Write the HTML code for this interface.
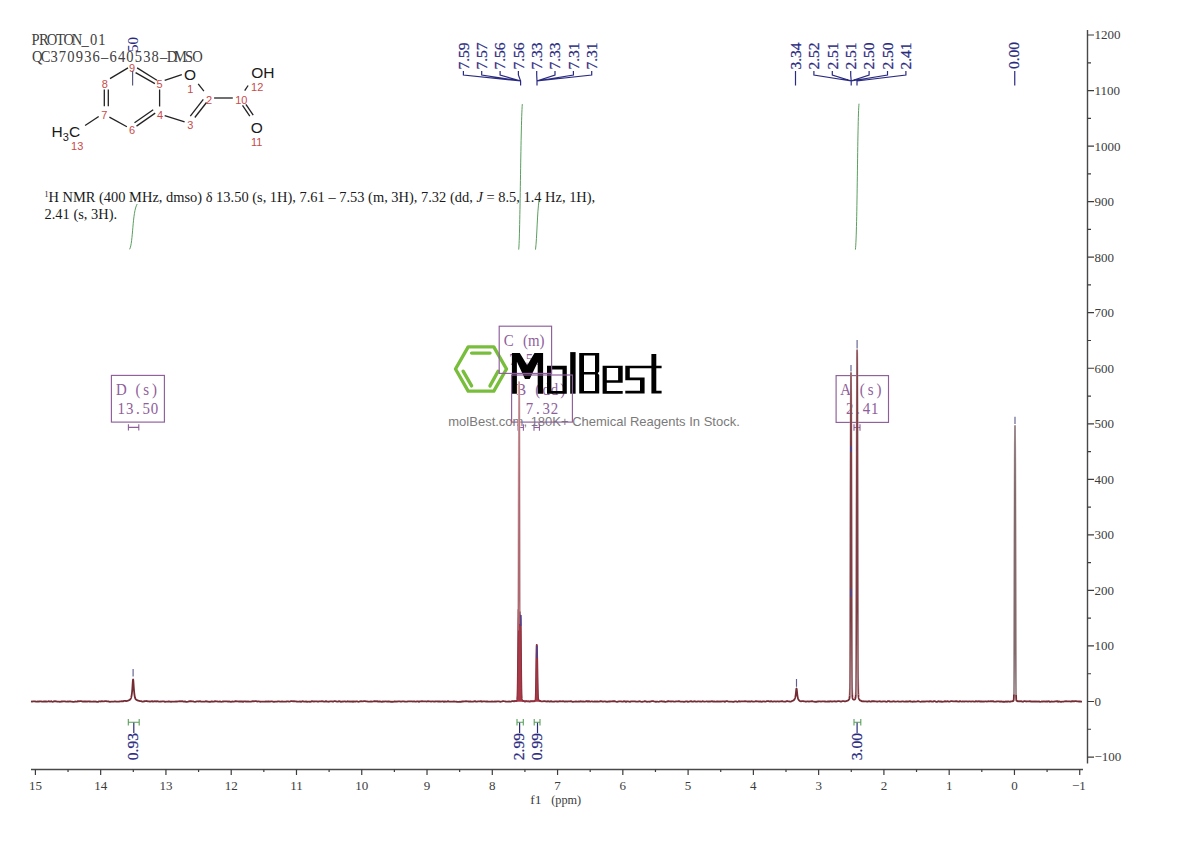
<!DOCTYPE html><html><head><meta charset="utf-8"><style>html,body{margin:0;padding:0;background:#fff;width:1190px;height:841px;overflow:hidden}svg{display:block}text{font-family:"Liberation Serif",serif}</style></head><body>
<svg width="1190" height="841" viewBox="0 0 1190 841">
<rect width="1190" height="841" fill="#fff"/>
<g transform="translate(31.30,44.50) scale(0.880,1)"><text xml:space="preserve" x="4.72 14.15 23.58 33.01 42.44 51.88 61.31 70.74 80.17" y="0" font-size="16.5" fill="#404040" text-anchor="middle" >PROTON_01</text></g>
<g transform="translate(33.00,61.90) scale(0.880,1)"><text xml:space="preserve" x="4.79 14.37 23.95 33.53 43.11 52.69 62.27 71.85 81.43 91.01 100.59 110.16 119.74 129.32 138.90 148.48 158.06 167.64 177.22 186.80" y="0" font-size="16.5" fill="#404040" text-anchor="middle" >QC370936–640538–DMSO</text></g>
<line x1="110.0" y1="78.6" x2="128.0" y2="67.9" stroke="#222" stroke-width="1.3"/>
<line x1="137.1" y1="67.9" x2="156.9" y2="80.3" stroke="#222" stroke-width="1.3"/>
<line x1="135.6" y1="72.6" x2="154.9" y2="83.6" stroke="#222" stroke-width="1.3"/>
<line x1="164.7" y1="80.4" x2="181.8" y2="74.7" stroke="#222" stroke-width="1.3"/>
<line x1="159.6" y1="89.5" x2="159.6" y2="106.5" stroke="#222" stroke-width="1.3"/>
<line x1="198.2" y1="83.8" x2="203.9" y2="91.2" stroke="#222" stroke-width="1.3"/>
<line x1="214.1" y1="98.0" x2="232.8" y2="98.0" stroke="#222" stroke-width="1.3"/>
<line x1="203.3" y1="99.3" x2="190.3" y2="116.2" stroke="#222" stroke-width="1.3"/>
<line x1="206.5" y1="102.5" x2="194.8" y2="117.5" stroke="#222" stroke-width="1.3"/>
<line x1="184.6" y1="121.8" x2="164.7" y2="115.6" stroke="#222" stroke-width="1.3"/>
<line x1="155.2" y1="113.1" x2="136.5" y2="126.1" stroke="#222" stroke-width="1.3"/>
<line x1="153.2" y1="109.8" x2="134.5" y2="122.8" stroke="#222" stroke-width="1.3"/>
<line x1="126.9" y1="126.7" x2="109.4" y2="117.1" stroke="#222" stroke-width="1.3"/>
<line x1="104.3" y1="89.4" x2="104.3" y2="106.3" stroke="#222" stroke-width="1.3"/>
<line x1="108.3" y1="89.4" x2="108.3" y2="106.3" stroke="#222" stroke-width="1.3"/>
<line x1="98.7" y1="116.5" x2="85.1" y2="125.5" stroke="#222" stroke-width="1.3"/>
<line x1="244.7" y1="90.6" x2="248.1" y2="85.5" stroke="#222" stroke-width="1.3"/>
<line x1="242.5" y1="105.4" x2="249.8" y2="116.2" stroke="#222" stroke-width="1.3"/>
<line x1="245.9" y1="104.4" x2="253.2" y2="115.2" stroke="#222" stroke-width="1.3"/>
<text x="104.9" y="88.1" font-size="11" fill="#c84a4a" text-anchor="middle" style="font-family:'Liberation Sans', sans-serif">8</text>
<text x="132.0" y="72.3" font-size="11" fill="#c84a4a" text-anchor="middle" style="font-family:'Liberation Sans', sans-serif">9</text>
<text x="159.6" y="87.8" font-size="11" fill="#c84a4a" text-anchor="middle" style="font-family:'Liberation Sans', sans-serif">5</text>
<text x="104.3" y="119.2" font-size="11" fill="#c84a4a" text-anchor="middle" style="font-family:'Liberation Sans', sans-serif">7</text>
<text x="160.0" y="119.3" font-size="11" fill="#c84a4a" text-anchor="middle" style="font-family:'Liberation Sans', sans-serif">4</text>
<text x="132.0" y="134.4" font-size="11" fill="#c84a4a" text-anchor="middle" style="font-family:'Liberation Sans', sans-serif">6</text>
<text x="77.2" y="150.2" font-size="11" fill="#c84a4a" text-anchor="middle" style="font-family:'Liberation Sans', sans-serif">13</text>
<text x="190.3" y="92.7" font-size="11" fill="#c84a4a" text-anchor="middle" style="font-family:'Liberation Sans', sans-serif">1</text>
<text x="209.0" y="103.5" font-size="11" fill="#c84a4a" text-anchor="middle" style="font-family:'Liberation Sans', sans-serif">2</text>
<text x="241.3" y="103.5" font-size="11" fill="#c84a4a" text-anchor="middle" style="font-family:'Liberation Sans', sans-serif">10</text>
<text x="257.2" y="91.0" font-size="11" fill="#c84a4a" text-anchor="middle" style="font-family:'Liberation Sans', sans-serif">12</text>
<text x="256.6" y="146.0" font-size="11" fill="#c84a4a" text-anchor="middle" style="font-family:'Liberation Sans', sans-serif">11</text>
<text x="190.3" y="128.5" font-size="11" fill="#c84a4a" text-anchor="middle" style="font-family:'Liberation Sans', sans-serif">3</text>
<text x="190.0" y="79.9" font-size="15.5" fill="#1a1a1a" text-anchor="middle" style="font-family:'Liberation Sans', sans-serif">O</text>
<text x="262.9" y="78.2" font-size="15.5" fill="#1a1a1a" text-anchor="middle" style="font-family:'Liberation Sans', sans-serif">OH</text>
<text x="256.9" y="132.6" font-size="15.5" fill="#1a1a1a" text-anchor="middle" style="font-family:'Liberation Sans', sans-serif">O</text>
<text x="51.6" y="137.4" font-size="15.5" fill="#1a1a1a" style="font-family:'Liberation Sans', sans-serif">H<tspan font-size="11" dy="3.5">3</tspan><tspan dy="-3.5">C</tspan></text>
<line x1="132.6" y1="70.7" x2="132.6" y2="85.4" stroke="#5a5a80" stroke-width="1.2"/>
<text x="44.5" y="202.2" font-size="14.45" fill="#1a1a1a"><tspan font-size="8" dy="-5">1</tspan><tspan dy="5">H NMR (400 MHz, dmso) δ 13.50 (s, 1H), 7.61 – 7.53 (m, 3H), 7.32 (dd, </tspan><tspan font-style="italic">J</tspan> = 8.5, 1.4 Hz, 1H),</text>
<text x="44.5" y="219.0" font-size="14.45" fill="#1a1a1a">2.41 (s, 3H).</text>
<path d="M129.6,249.3 C133.2,243 132.2,212 137.2,204" fill="none" stroke="#5a9e5e" stroke-width="1.0"/>
<path d="M518.7,249.6 C520.2,236 520.6,128 522.3,104.1" fill="none" stroke="#5a9e5e" stroke-width="1.0"/>
<path d="M535.5,249.6 C537,238 537.2,212 539.1,200.1" fill="none" stroke="#5a9e5e" stroke-width="1.0"/>
<path d="M855.4,249.6 C857.4,232 857.4,120 859,103.7" fill="none" stroke="#5a9e5e" stroke-width="1.0"/>
<text transform="translate(468.65,69.50) rotate(-90)" font-size="15.5" fill="#2a2a80" stroke="#2a2a80" stroke-width="0.25">7.59</text>
<text transform="translate(486.98,69.50) rotate(-90)" font-size="15.5" fill="#2a2a80" stroke="#2a2a80" stroke-width="0.25">7.57</text>
<text transform="translate(505.31,69.50) rotate(-90)" font-size="15.5" fill="#2a2a80" stroke="#2a2a80" stroke-width="0.25">7.56</text>
<text transform="translate(523.64,69.50) rotate(-90)" font-size="15.5" fill="#2a2a80" stroke="#2a2a80" stroke-width="0.25">7.56</text>
<text transform="translate(541.97,69.50) rotate(-90)" font-size="15.5" fill="#2a2a80" stroke="#2a2a80" stroke-width="0.25">7.33</text>
<text transform="translate(560.30,69.50) rotate(-90)" font-size="15.5" fill="#2a2a80" stroke="#2a2a80" stroke-width="0.25">7.33</text>
<text transform="translate(578.63,69.50) rotate(-90)" font-size="15.5" fill="#2a2a80" stroke="#2a2a80" stroke-width="0.25">7.31</text>
<text transform="translate(596.96,69.50) rotate(-90)" font-size="15.5" fill="#2a2a80" stroke="#2a2a80" stroke-width="0.25">7.31</text>
<text transform="translate(800.75,69.50) rotate(-90)" font-size="15.5" fill="#2a2a80" stroke="#2a2a80" stroke-width="0.25">3.34</text>
<text transform="translate(819.15,69.50) rotate(-90)" font-size="15.5" fill="#2a2a80" stroke="#2a2a80" stroke-width="0.25">2.52</text>
<text transform="translate(837.55,69.50) rotate(-90)" font-size="15.5" fill="#2a2a80" stroke="#2a2a80" stroke-width="0.25">2.51</text>
<text transform="translate(855.95,69.50) rotate(-90)" font-size="15.5" fill="#2a2a80" stroke="#2a2a80" stroke-width="0.25">2.51</text>
<text transform="translate(874.35,69.50) rotate(-90)" font-size="15.5" fill="#2a2a80" stroke="#2a2a80" stroke-width="0.25">2.50</text>
<text transform="translate(892.75,69.50) rotate(-90)" font-size="15.5" fill="#2a2a80" stroke="#2a2a80" stroke-width="0.25">2.50</text>
<text transform="translate(911.15,69.50) rotate(-90)" font-size="15.5" fill="#2a2a80" stroke="#2a2a80" stroke-width="0.25">2.41</text>
<text transform="translate(1019.25,69.00) rotate(-90)" font-size="15.5" fill="#2a2a80" stroke="#2a2a80" stroke-width="0.25">0.00</text>
<path d="M463.4,71 L463.4,75 L520.6,81 L520.6,85.5 M481.7,71 L481.7,75 L520.6,81 L520.6,85.5 M500.1,71 L500.1,75 L520.6,81 L520.6,85.5 M518.4,71 L518.4,75 L520.6,81 L520.6,85.5 M536.7,71 L536.7,75 L537.0,81 L537.0,85.5 M555.0,71 L555.0,75 L537.0,81 L537.0,85.5 M573.4,71 L573.4,75 L537.0,81 L537.0,85.5 M591.7,71 L591.7,75 L537.0,81 L537.0,85.5 M795.5,71 L795.5,85.5 M813.9,71 L813.9,75 L851.2,81 L851.2,85.5 M832.3,71 L832.3,75 L851.2,81 L851.2,85.5 M850.7,71 L850.7,75 L851.2,81 L851.2,85.5 M869.1,71 L869.1,75 L851.2,81 L851.2,85.5 M887.5,71 L887.5,75 L851.2,81 L851.2,85.5 M905.9,71 L905.9,75 L857.0,81 L857.0,85.5 M1014.75,71 L1014.75,85.5" fill="none" stroke="#2a2a80" stroke-width="1.2"/>
<text transform="translate(137.8,52) rotate(-90)" font-size="15" fill="#2a2a80">50</text>
<g transform="translate(117.15,395.00) scale(0.930,1)"><text xml:space="preserve" x="4.46 13.39 22.31 31.24 40.16" y="0" font-size="16" fill="#8e5e9a" text-anchor="middle" >D (s)</text></g><g transform="translate(117.15,414.20) scale(0.930,1)"><text xml:space="preserve" x="4.46 13.39 22.31 31.24 40.16" y="0" font-size="16" fill="#8e5e9a" text-anchor="middle" >13.50</text></g>
<g transform="translate(504.65,345.80) scale(0.930,1)"><text xml:space="preserve" x="4.46 13.39 22.31 31.24 40.16" y="0" font-size="16" fill="#8e5e9a" text-anchor="middle" >C (m)</text></g><g transform="translate(508.80,365.00) scale(0.930,1)"><text xml:space="preserve" x="4.46 13.39 22.31 31.24" y="0" font-size="16" fill="#8e5e9a" text-anchor="middle" >7.56</text></g>
<g transform="translate(517.10,394.60) scale(0.930,1)"><text xml:space="preserve" x="4.46 13.39 22.31 31.24 40.16 49.09" y="0" font-size="16" fill="#8e5e9a" text-anchor="middle" >B (dd)</text></g><g transform="translate(525.40,413.80) scale(0.930,1)"><text xml:space="preserve" x="4.46 13.39 22.31 31.24" y="0" font-size="16" fill="#8e5e9a" text-anchor="middle" >7.32</text></g>
<g transform="translate(841.55,395.20) scale(0.930,1)"><text xml:space="preserve" x="4.46 13.39 22.31 31.24 40.16" y="0" font-size="16" fill="#8e5e9a" text-anchor="middle" >A (s)</text></g><g transform="translate(845.70,414.40) scale(0.930,1)"><text xml:space="preserve" x="4.46 13.39 22.31 31.24" y="0" font-size="16" fill="#8e5e9a" text-anchor="middle" >2.41</text></g>
<g>
<polygon points="506.5,369.0 493.8,391.1 468.2,391.1 455.5,369.0 468.2,346.9 493.8,346.9" fill="none" stroke="#78be3c" stroke-width="3.4" stroke-linejoin="round"/>
<path d="M471.6,353.1 H490 M463.1,371.2 L471.6,385.9 M498.1,371.2 L490,385.9" stroke="#78be3c" stroke-width="3.4" stroke-linecap="round" fill="none"/>
<path d="M511.9,353 H519.8 L527.2,365.2 L534.5,353 H543.1 V393.8 H537.7 V362.3 L529.7,378.9 H525 L516.9,361.7 V393.8 H511.9 Z" fill="#000" fill-rule="evenodd"/>
<path d="M547,365.8 H566.8 V393.7 H547 Z M551.4,369.5 V391 H562.5 V369.5 Z" fill="#000" fill-rule="evenodd"/>
<path d="M570.2,352.1 H575.6 V393.7 H570.2 Z" fill="#000" fill-rule="evenodd"/>
<path d="M579.2,352.9 H599.2 V371.5 L597.8,373.2 L599.2,374.9 V393.4 H579.2 Z M584,355.6 V371.9 H595 V355.6 Z M584,374.5 V391.1 H595 V374.5 Z" fill="#000" fill-rule="evenodd"/>
<path d="M602.6,365.8 H622.7 V382.8 H606.8 V391.1 H622.7 V393.8 H602.6 Z M606.8,368.1 V380.2 H618.1 V368.1 Z" fill="#000" fill-rule="evenodd"/>
<path d="M625.3,365.8 H661.6 V368.3 H629.8 V377.5 H644.6 V393.4 H625.3 V390.8 H640 V380.2 H625.3 Z" fill="#000" fill-rule="evenodd"/>
<path d="M651.4,354.1 H656.3 V390.8 H661.6 V393.4 H651.4 Z" fill="#000" fill-rule="evenodd"/>
<text x="448.3" y="425.6" font-size="13.4" fill="#7a7a7a" textLength="291.5" lengthAdjust="spacingAndGlyphs" style="font-family:'Liberation Sans', sans-serif">molBest.com, 180K+ Chemical Reagents In Stock.</text>
</g>
<rect x="111.4" y="375.4" width="53.0" height="46.7" fill="none" stroke="#8e5e9a" stroke-width="1.15"/><rect x="499.2" y="326.2" width="52.4" height="47.2" fill="none" stroke="#8e5e9a" stroke-width="1.15"/><rect x="511.6" y="375.0" width="60.8" height="47.1" fill="none" stroke="#8e5e9a" stroke-width="1.15"/><rect x="836.1" y="375.6" width="52.4" height="46.8" fill="none" stroke="#8e5e9a" stroke-width="1.15"/>
<path d="M128.4,424.2 V430.6 M138.8,424.2 V430.6 M128.4,427.4 H138.8" fill="none" stroke="#8e5e9a" stroke-width="1.1"/>
<path d="M518.0,424.3 V430.7 M523.4,424.3 V430.7 M518.0,427.5 H523.4" fill="none" stroke="#8e5e9a" stroke-width="1.1"/>
<path d="M534.0,424.3 V430.7 M539.4,424.3 V430.7 M534.0,427.5 H539.4" fill="none" stroke="#8e5e9a" stroke-width="1.1"/>
<path d="M854.0,424.3 V430.7 M860.0,424.3 V430.7 M854.0,427.5 H860.0" fill="none" stroke="#8e5e9a" stroke-width="1.1"/>
<polyline points="31.00,701.35 32.00,701.55 33.00,701.28 34.00,701.38 35.00,701.46 36.00,701.68 37.00,701.54 38.00,701.37 39.00,701.52 40.00,701.44 41.00,701.36 42.00,701.67 43.00,701.62 44.00,701.32 45.00,701.50 46.00,701.46 47.00,701.65 48.00,701.48 49.00,701.24 50.00,701.69 51.00,701.21 52.00,701.61 53.00,701.79 54.00,701.18 55.00,701.37 56.00,701.24 57.00,701.59 58.00,701.69 59.00,701.58 60.00,701.82 61.00,701.51 62.00,701.51 63.00,701.45 64.00,701.46 65.00,701.40 66.00,701.60 67.00,701.66 68.00,701.45 69.00,701.55 70.00,701.24 71.00,701.59 72.00,701.73 73.00,701.92 74.00,701.79 75.00,701.49 76.00,701.55 77.00,701.71 78.00,701.07 79.00,701.31 80.00,701.16 81.00,701.13 82.00,701.32 83.00,701.71 84.00,701.42 85.00,701.48 86.00,701.42 87.00,701.69 88.00,701.29 89.00,701.49 90.00,701.35 91.00,701.54 92.00,701.63 93.00,701.65 94.00,701.51 95.00,701.58 96.00,701.52 97.00,701.80 98.00,701.85 99.00,701.41 100.00,701.46 101.00,701.49 102.00,701.25 103.00,701.39 104.00,701.40 105.00,701.22 106.00,701.09 107.00,701.32 108.00,701.41 109.00,701.51 110.00,701.78 111.00,701.63 112.00,701.61 113.00,701.67 114.00,701.62 115.00,701.27 116.00,701.71 117.00,701.63 118.00,701.72 119.00,701.66 120.00,701.32 121.00,701.31 122.00,701.16 123.00,701.42 123.10,701.37 123.15,701.34 123.20,701.31 123.25,701.29 123.30,701.26 123.35,701.24 123.40,701.21 123.45,701.18 123.50,701.16 123.55,701.13 123.60,701.10 123.65,701.08 123.70,701.05 123.75,701.03 123.80,701.00 123.85,700.97 123.90,700.95 123.95,700.92 124.00,700.89 124.05,700.89 124.10,700.89 124.15,700.89 124.20,700.89 124.25,700.88 124.30,700.88 124.35,700.88 124.40,700.88 124.45,700.87 124.50,700.87 124.55,700.87 124.60,700.86 124.65,700.86 124.70,700.86 124.75,700.86 124.80,700.85 124.85,700.85 124.90,700.85 124.95,700.84 125.00,700.84 125.05,700.85 125.10,700.87 125.15,700.88 125.20,700.89 125.25,700.91 125.30,700.92 125.35,700.93 125.40,700.94 125.45,700.95 125.50,700.97 125.55,700.98 125.60,700.99 125.65,701.00 125.70,701.02 125.75,701.03 125.80,701.04 125.85,701.05 125.90,701.06 125.95,701.07 126.00,701.08 126.05,701.08 126.10,701.07 126.15,701.07 126.20,701.06 126.25,701.05 126.30,701.05 126.35,701.04 126.40,701.03 126.45,701.03 126.50,701.02 126.55,701.01 126.60,701.00 126.65,701.00 126.70,700.99 126.75,700.98 126.80,700.97 126.85,700.96 126.90,700.96 126.95,700.95 127.00,700.94 127.05,700.93 127.10,700.91 127.15,700.90 127.20,700.89 127.25,700.88 127.30,700.86 127.35,700.85 127.40,700.84 127.45,700.83 127.50,700.81 127.55,700.80 127.60,700.78 127.65,700.77 127.70,700.75 127.75,700.74 127.80,700.72 127.85,700.71 127.90,700.69 127.95,700.68 128.00,700.66 128.05,700.64 128.10,700.62 128.15,700.60 128.20,700.57 128.25,700.55 128.30,700.53 128.35,700.51 128.40,700.48 128.45,700.46 128.50,700.43 128.55,700.41 128.60,700.38 128.65,700.36 128.70,700.33 128.75,700.30 128.80,700.27 128.85,700.25 128.90,700.22 128.95,700.19 129.00,700.15 129.05,700.14 129.10,700.13 129.15,700.11 129.20,700.09 129.25,700.08 129.30,700.06 129.35,700.04 129.40,700.02 129.45,699.99 129.50,699.97 129.55,699.95 129.60,699.92 129.65,699.89 129.70,699.86 129.75,699.83 129.80,699.80 129.85,699.77 129.90,699.73 129.95,699.69 130.00,699.65 130.05,699.61 130.10,699.56 130.15,699.50 130.20,699.45 130.25,699.39 130.30,699.33 130.35,699.26 130.40,699.20 130.45,699.13 130.50,699.05 130.55,698.97 130.60,698.89 130.65,698.80 130.70,698.71 130.75,698.61 130.80,698.51 130.85,698.40 130.90,698.28 130.95,698.16 131.00,698.03 131.05,697.89 131.10,697.73 131.15,697.57 131.20,697.39 131.25,697.21 131.30,697.01 131.35,696.80 131.40,696.58 131.45,696.35 131.50,696.10 131.55,695.83 131.60,695.55 131.65,695.25 131.70,694.93 131.75,694.59 131.80,694.22 131.85,693.84 131.90,693.42 131.95,692.98 132.00,692.51 132.05,692.02 132.10,691.50 132.15,690.94 132.20,690.36 132.25,689.74 132.30,689.08 132.35,688.40 132.40,687.68 132.45,686.94 132.50,686.17 132.55,685.39 132.60,684.60 132.65,683.82 132.70,683.06 132.75,682.33 132.80,681.64 132.85,681.03 132.90,680.49 132.95,680.06 133.00,679.74 133.05,679.53 133.10,679.44 133.15,679.50 133.20,679.68 133.25,679.99 133.30,680.42 133.35,680.94 133.40,681.55 133.45,682.23 133.50,682.95 133.55,683.71 133.60,684.48 133.65,685.26 133.70,686.03 133.75,686.79 133.80,687.53 133.85,688.24 133.90,688.91 133.95,689.56 134.00,690.17 134.05,690.79 134.10,691.38 134.15,691.93 134.20,692.45 134.25,692.93 134.30,693.39 134.35,693.83 134.40,694.23 134.45,694.62 134.50,694.97 134.55,695.31 134.60,695.63 134.65,695.93 134.70,696.21 134.75,696.48 134.80,696.73 134.85,696.97 134.90,697.19 134.95,697.41 135.00,697.61 135.05,697.77 135.10,697.92 135.15,698.06 135.20,698.19 135.25,698.31 135.30,698.43 135.35,698.54 135.40,698.64 135.45,698.74 135.50,698.83 135.55,698.91 135.60,699.00 135.65,699.07 135.70,699.15 135.75,699.22 135.80,699.28 135.85,699.34 135.90,699.40 135.95,699.45 136.00,699.51 136.05,699.55 136.10,699.60 136.15,699.64 136.20,699.68 136.25,699.72 136.30,699.75 136.35,699.78 136.40,699.81 136.45,699.84 136.50,699.87 136.55,699.90 136.60,699.92 136.65,699.94 136.70,699.97 136.75,699.99 136.80,700.01 136.85,700.02 136.90,700.04 136.95,700.06 137.00,700.07 137.05,700.10 137.10,700.13 137.15,700.16 137.20,700.19 137.25,700.22 137.30,700.25 137.35,700.27 137.40,700.30 137.45,700.32 137.50,700.35 137.55,700.37 137.60,700.40 137.65,700.42 137.70,700.44 137.75,700.46 137.80,700.48 137.85,700.50 137.90,700.52 137.95,700.54 138.00,700.56 138.05,700.58 138.10,700.60 138.15,700.61 138.20,700.63 138.25,700.64 138.30,700.66 138.35,700.67 138.40,700.69 138.45,700.70 138.50,700.71 138.55,700.73 138.60,700.74 138.65,700.75 138.70,700.76 138.75,700.78 138.80,700.79 138.85,700.80 138.90,700.81 138.95,700.82 139.00,700.83 139.05,700.85 139.10,700.86 139.15,700.88 139.20,700.89 139.25,700.91 139.30,700.92 139.35,700.93 139.40,700.95 139.45,700.96 139.50,700.98 139.55,700.99 139.60,701.00 139.65,701.01 139.70,701.03 139.75,701.04 139.80,701.05 139.85,701.07 139.90,701.08 139.95,701.09 140.00,701.10 140.05,701.10 140.10,701.10 140.15,701.10 140.20,701.10 140.25,701.09 140.30,701.09 140.35,701.09 140.40,701.09 140.45,701.09 140.50,701.08 140.55,701.08 140.60,701.08 140.65,701.08 140.70,701.07 140.75,701.07 140.80,701.07 140.85,701.06 140.90,701.06 140.95,701.06 141.00,701.06 141.05,701.08 141.10,701.10 141.15,701.13 141.20,701.15 141.25,701.18 141.30,701.20 141.35,701.23 141.40,701.25 141.45,701.27 141.50,701.30 141.55,701.32 141.60,701.35 141.65,701.37 141.70,701.39 141.75,701.42 141.80,701.44 141.85,701.46 141.90,701.49 141.95,701.51 142.00,701.53 142.05,701.54 142.10,701.55 142.15,701.55 142.20,701.56 142.25,701.57 142.30,701.57 142.35,701.58 142.40,701.58 142.45,701.59 142.50,701.60 142.55,701.60 142.60,701.61 142.65,701.62 142.70,701.62 142.75,701.63 142.80,701.63 142.85,701.64 142.90,701.64 142.95,701.65 143.00,701.66 143.05,701.63 143.10,701.61 144.00,701.20 145.00,701.24 146.00,701.02 147.00,701.05 148.00,701.34 149.00,701.31 150.00,701.65 151.00,701.29 152.00,701.15 153.00,701.67 154.00,701.38 155.00,701.18 156.00,701.52 157.00,701.24 158.00,701.33 159.00,701.57 160.00,701.61 161.00,701.52 162.00,701.33 163.00,701.39 164.00,701.45 165.00,701.78 166.00,701.55 167.00,701.69 168.00,701.52 169.00,701.46 170.00,701.65 171.00,701.75 172.00,701.59 173.00,701.57 174.00,701.58 175.00,701.54 176.00,701.49 177.00,701.65 178.00,701.48 179.00,701.30 180.00,701.17 181.00,701.31 182.00,701.20 183.00,701.44 184.00,701.74 185.00,701.46 186.00,701.79 187.00,701.82 188.00,701.72 189.00,701.39 190.00,701.26 191.00,701.26 192.00,701.38 193.00,701.39 194.00,701.70 195.00,701.86 196.00,701.59 197.00,701.39 198.00,701.43 199.00,701.51 200.00,701.21 201.00,701.53 202.00,701.70 203.00,701.63 204.00,701.69 205.00,701.54 206.00,701.22 207.00,701.56 208.00,701.50 209.00,701.76 210.00,701.84 211.00,701.52 212.00,701.44 213.00,701.74 214.00,701.52 215.00,701.22 216.00,701.45 217.00,701.46 218.00,701.66 219.00,701.60 220.00,701.41 221.00,701.78 222.00,701.67 223.00,701.50 224.00,701.32 225.00,701.43 226.00,701.38 227.00,701.32 228.00,701.69 229.00,701.51 230.00,701.66 231.00,701.89 232.00,701.46 233.00,701.70 234.00,701.57 235.00,701.24 236.00,701.27 237.00,701.29 238.00,701.33 239.00,701.52 240.00,701.42 241.00,701.51 242.00,701.44 243.00,701.87 244.00,701.30 245.00,701.36 246.00,701.51 247.00,701.69 248.00,701.36 249.00,701.63 250.00,701.66 251.00,701.67 252.00,701.39 253.00,701.12 254.00,701.32 255.00,701.18 256.00,701.08 257.00,701.52 258.00,701.28 259.00,701.45 260.00,701.75 261.00,701.66 262.00,701.53 263.00,701.64 264.00,701.61 265.00,701.73 266.00,701.45 267.00,701.70 268.00,701.50 269.00,701.52 270.00,701.59 271.00,701.45 272.00,701.43 273.00,701.54 274.00,701.87 275.00,701.61 276.00,701.64 277.00,701.58 278.00,701.35 279.00,701.45 280.00,701.53 281.00,701.57 282.00,701.45 283.00,701.70 284.00,701.57 285.00,701.66 286.00,701.69 287.00,701.31 288.00,701.42 289.00,701.63 290.00,701.52 291.00,701.14 292.00,701.22 293.00,701.39 294.00,701.21 295.00,701.31 296.00,701.41 297.00,701.74 298.00,701.53 299.00,701.59 300.00,701.46 301.00,701.77 302.00,701.49 303.00,701.21 304.00,701.66 305.00,701.71 306.00,701.45 307.00,701.85 308.00,701.55 309.00,701.60 310.00,701.75 311.00,701.66 312.00,701.16 313.00,701.31 314.00,701.50 315.00,701.40 316.00,701.29 317.00,701.36 318.00,701.76 319.00,701.37 320.00,701.43 321.00,701.37 322.00,701.19 323.00,701.36 324.00,701.70 325.00,701.64 326.00,701.10 327.00,701.61 328.00,701.63 329.00,701.73 330.00,701.38 331.00,701.47 332.00,701.33 333.00,701.74 334.00,701.22 335.00,701.14 336.00,701.30 337.00,701.57 338.00,701.53 339.00,701.22 340.00,701.44 341.00,701.87 342.00,701.46 343.00,701.53 344.00,701.35 345.00,701.34 346.00,701.73 347.00,701.59 348.00,701.21 349.00,701.69 350.00,701.50 351.00,701.59 352.00,701.42 353.00,701.85 354.00,701.30 355.00,701.74 356.00,701.40 357.00,701.33 358.00,701.60 359.00,701.81 360.00,701.31 361.00,701.23 362.00,701.44 363.00,701.28 364.00,701.12 365.00,701.15 366.00,701.34 367.00,701.42 368.00,701.53 369.00,701.53 370.00,701.69 371.00,701.43 372.00,701.65 373.00,701.47 374.00,701.26 375.00,701.08 376.00,701.27 377.00,701.14 378.00,701.62 379.00,701.52 380.00,701.48 381.00,701.64 382.00,701.89 383.00,701.43 384.00,701.64 385.00,701.42 386.00,701.41 387.00,701.60 388.00,701.42 389.00,701.48 390.00,701.60 391.00,701.76 392.00,701.55 393.00,701.82 394.00,701.51 395.00,701.47 396.00,701.55 397.00,701.52 398.00,701.33 399.00,701.37 400.00,701.37 401.00,701.74 402.00,701.45 403.00,701.40 404.00,701.31 405.00,701.72 406.00,701.65 407.00,701.54 408.00,701.32 409.00,701.30 410.00,701.34 411.00,701.43 412.00,701.40 413.00,701.56 414.00,701.23 415.00,701.61 416.00,701.66 417.00,701.42 418.00,701.44 419.00,701.84 420.00,701.31 421.00,701.34 422.00,701.08 423.00,701.29 424.00,701.33 425.00,701.35 426.00,701.35 427.00,701.52 428.00,701.17 429.00,701.31 430.00,701.43 431.00,701.60 432.00,701.37 433.00,701.36 434.00,701.55 435.00,701.51 436.00,701.47 437.00,701.44 438.00,701.50 439.00,701.45 440.00,701.48 441.00,701.57 442.00,701.44 443.00,701.40 444.00,701.83 445.00,701.37 446.00,701.60 447.00,701.56 448.00,701.16 449.00,701.59 450.00,701.69 451.00,701.54 452.00,701.67 453.00,701.71 454.00,701.36 455.00,701.57 456.00,701.58 457.00,701.76 458.00,701.78 459.00,701.79 460.00,701.60 461.00,701.77 462.00,701.47 463.00,701.48 464.00,701.46 465.00,701.35 466.00,701.23 467.00,701.35 468.00,701.30 469.00,701.70 470.00,701.49 471.00,701.52 472.00,701.64 473.00,701.67 474.00,701.39 475.00,701.12 476.00,701.58 477.00,701.55 478.00,701.41 479.00,701.43 480.00,701.47 481.00,701.14 482.00,701.75 483.00,701.48 484.00,701.29 485.00,701.39 486.00,701.56 487.00,701.27 488.00,701.59 489.00,701.72 490.00,701.65 491.00,701.59 492.00,701.48 493.00,701.59 494.00,701.55 495.00,701.46 496.00,701.67 497.00,701.36 498.00,701.34 499.00,701.40 500.00,701.78 501.00,701.53 502.00,701.38 503.00,701.08 504.00,701.22 505.00,701.33 506.00,701.66 507.00,701.67 508.00,701.66 508.40,701.57 508.45,701.56 508.50,701.55 508.55,701.54 508.60,701.53 508.65,701.52 508.70,701.51 508.75,701.50 508.80,701.48 508.85,701.47 508.90,701.46 508.95,701.45 509.00,701.44 509.05,701.45 509.10,701.45 509.15,701.46 509.20,701.47 509.25,701.48 509.30,701.48 509.35,701.49 509.40,701.50 509.45,701.50 509.50,701.51 509.55,701.52 509.60,701.52 509.65,701.53 509.70,701.54 509.75,701.54 509.80,701.55 509.85,701.56 509.90,701.56 509.95,701.57 510.00,701.58 510.05,701.58 510.10,701.57 510.15,701.57 510.20,701.57 510.25,701.57 510.30,701.56 510.35,701.56 510.40,701.56 510.45,701.56 510.50,701.56 510.55,701.55 510.60,701.55 510.65,701.55 510.70,701.55 510.75,701.54 510.80,701.54 510.85,701.54 510.90,701.54 510.95,701.53 511.00,701.53 511.05,701.52 511.10,701.50 511.15,701.49 511.20,701.47 511.25,701.46 511.30,701.44 511.35,701.42 511.40,701.41 511.45,701.39 511.50,701.38 511.55,701.36 511.60,701.35 511.65,701.33 511.70,701.32 511.75,701.30 511.80,701.28 511.85,701.27 511.90,701.25 511.95,701.24 512.00,701.22 512.05,701.21 512.10,701.20 512.15,701.19 512.20,701.18 512.25,701.17 512.30,701.16 512.35,701.14 512.40,701.13 512.45,701.12 512.50,701.11 512.55,701.10 512.60,701.09 512.65,701.08 512.70,701.07 512.75,701.05 512.80,701.04 512.85,701.03 512.90,701.02 512.95,701.01 513.00,701.00 513.05,701.02 513.10,701.04 513.15,701.07 513.20,701.09 513.25,701.11 513.30,701.14 513.35,701.16 513.40,701.18 513.45,701.20 513.50,701.23 513.55,701.25 513.60,701.27 513.65,701.29 513.70,701.32 513.75,701.34 513.80,701.36 513.85,701.38 513.90,701.41 513.95,701.43 514.00,701.45 514.05,701.43 514.10,701.40 514.15,701.38 514.20,701.36 514.25,701.34 514.30,701.31 514.35,701.29 514.40,701.27 514.45,701.24 514.50,701.22 514.55,701.19 514.60,701.17 514.65,701.15 514.70,701.12 514.75,701.10 514.80,701.07 514.85,701.05 514.90,701.02 514.95,701.00 515.00,700.97 515.05,700.98 515.10,700.99 515.15,701.00 515.20,701.02 515.25,701.03 515.30,701.04 515.35,701.05 515.40,701.06 515.45,701.07 515.50,701.07 515.55,701.08 515.60,701.09 515.65,701.10 515.70,701.11 515.75,701.11 515.80,701.12 515.85,701.13 515.90,701.13 515.95,701.14 516.00,701.14 516.05,701.12 516.10,701.11 516.15,701.09 516.20,701.07 516.25,701.05 516.30,701.03 516.35,701.01 516.40,700.99 516.45,700.96 516.50,700.94 516.55,700.91 516.60,700.89 516.65,700.86 516.70,700.82 516.75,700.79 516.80,700.75 516.85,700.70 516.90,700.64 516.95,700.57 517.00,700.48 517.05,700.34 517.10,700.17 517.15,699.94 517.20,699.65 517.25,699.27 517.30,698.77 517.35,698.13 517.40,697.30 517.45,696.25 517.50,694.92 517.55,693.28 517.60,691.28 517.65,688.88 517.70,686.07 517.75,682.82 517.80,679.13 517.85,675.05 517.90,670.93 517.95,666.22 518.00,661.31 518.05,656.27 518.10,651.19 518.15,646.11 518.20,641.03 518.25,635.85 518.30,630.41 518.35,624.43 518.40,617.50 518.45,609.15 518.50,598.87 518.55,586.14 518.60,570.60 518.65,552.05 518.70,530.65 518.75,506.88 518.80,481.67 518.85,456.30 518.90,432.33 518.95,411.45 519.00,395.28 519.05,385.17 519.10,382.00 519.15,386.08 519.20,397.10 519.25,414.14 519.30,435.85 519.35,460.59 519.40,486.63 519.45,512.37 519.50,536.46 519.55,557.94 519.60,576.23 519.65,591.14 519.70,602.75 519.75,611.39 519.80,617.50 519.85,621.55 519.90,623.99 519.95,625.21 520.00,625.53 520.05,625.19 520.10,624.36 520.15,623.19 520.20,621.78 520.25,620.26 520.30,618.74 520.35,617.37 520.40,616.27 520.45,615.61 520.50,615.52 520.55,616.12 520.60,617.50 520.65,619.71 520.70,622.75 520.75,626.58 520.80,631.11 520.85,636.23 520.90,641.77 520.95,647.58 521.00,653.48 521.05,659.31 521.10,664.94 521.15,670.22 521.20,675.42 521.25,679.78 521.30,683.62 521.35,686.93 521.40,689.75 521.45,692.08 521.50,693.99 521.55,695.53 521.60,696.74 521.65,697.68 521.70,698.40 521.75,698.94 521.80,699.35 521.85,699.65 521.90,699.87 521.95,700.03 522.00,700.15 522.05,700.25 522.10,700.33 522.15,700.39 522.20,700.44 522.25,700.48 522.30,700.52 522.35,700.56 522.40,700.59 522.45,700.61 522.50,700.64 522.55,700.66 522.60,700.69 522.65,700.71 522.70,700.72 522.75,700.74 522.80,700.76 522.85,700.78 522.90,700.79 522.95,700.80 523.00,700.82 523.05,700.84 523.10,700.86 523.15,700.88 523.20,700.90 523.25,700.92 523.30,700.93 523.35,700.95 523.40,700.97 523.45,700.98 523.50,701.00 523.55,701.02 523.60,701.03 523.65,701.04 523.70,701.06 523.75,701.07 523.80,701.09 523.85,701.10 523.90,701.11 523.95,701.12 524.00,701.13 524.05,701.16 524.10,701.19 524.15,701.22 524.20,701.24 524.25,701.27 524.30,701.30 524.35,701.32 524.40,701.35 524.45,701.38 524.50,701.40 524.55,701.43 524.60,701.45 524.65,701.48 524.70,701.50 524.75,701.53 524.80,701.55 524.85,701.58 524.90,701.60 524.95,701.63 525.00,701.65 525.05,701.62 525.10,701.60 525.15,701.57 525.20,701.55 525.25,701.52 525.30,701.49 525.35,701.47 525.40,701.44 525.45,701.42 525.50,701.39 525.55,701.36 525.60,701.34 525.65,701.31 525.70,701.28 525.75,701.25 525.80,701.23 525.85,701.20 525.90,701.17 525.95,701.15 526.00,701.12 526.05,701.13 526.10,701.14 526.15,701.16 526.20,701.17 526.25,701.18 526.30,701.19 526.35,701.20 526.40,701.22 526.45,701.23 526.50,701.24 526.55,701.25 526.60,701.26 526.65,701.27 526.70,701.29 526.75,701.30 526.80,701.31 526.85,701.32 526.90,701.33 526.95,701.34 527.00,701.35 527.05,701.35 527.10,701.35 527.15,701.35 527.20,701.34 527.25,701.34 527.30,701.34 527.35,701.33 527.40,701.33 527.45,701.33 527.50,701.32 527.55,701.32 527.60,701.32 527.65,701.32 527.70,701.31 527.75,701.31 527.80,701.31 527.85,701.30 527.90,701.30 527.95,701.30 528.00,701.29 528.05,701.30 528.10,701.31 528.15,701.32 528.20,701.34 528.25,701.35 528.30,701.36 528.35,701.37 528.40,701.38 528.45,701.39 528.50,701.40 528.55,701.41 528.60,701.42 528.65,701.43 528.70,701.44 528.75,701.45 528.80,701.46 528.85,701.48 528.90,701.49 528.95,701.50 529.00,701.51 529.05,701.51 529.10,701.52 529.15,701.52 529.20,701.53 529.25,701.53 529.30,701.54 529.35,701.54 529.40,701.55 529.45,701.55 529.50,701.55 529.55,701.56 529.60,701.56 529.65,701.57 529.70,701.57 529.75,701.58 529.80,701.58 529.85,701.59 529.90,701.59 529.95,701.59 530.00,701.60 530.05,701.58 530.10,701.55 530.15,701.53 530.20,701.51 530.25,701.48 530.30,701.46 530.35,701.44 530.40,701.41 530.45,701.39 530.50,701.37 530.55,701.34 530.60,701.32 530.65,701.30 530.70,701.27 530.75,701.25 530.80,701.22 530.85,701.20 530.90,701.18 530.95,701.15 531.00,701.13 531.05,701.14 531.10,701.16 531.15,701.17 531.20,701.19 531.25,701.20 531.30,701.21 531.35,701.23 531.40,701.24 531.45,701.26 531.50,701.27 531.55,701.28 531.60,701.30 531.65,701.31 531.70,701.33 531.75,701.34 531.80,701.35 531.85,701.37 531.90,701.38 531.95,701.39 532.00,701.40 532.05,701.39 532.10,701.38 532.15,701.37 532.20,701.36 532.25,701.35 532.30,701.34 532.35,701.32 532.40,701.31 532.45,701.30 532.50,701.29 532.55,701.27 532.60,701.26 532.65,701.25 532.70,701.24 532.75,701.22 532.80,701.21 532.85,701.20 532.90,701.18 532.95,701.17 533.00,701.15 533.05,701.17 533.10,701.18 533.15,701.19 533.20,701.20 533.25,701.22 533.30,701.23 533.35,701.24 533.40,701.25 533.45,701.26 533.50,701.27 533.55,701.28 533.60,701.29 533.65,701.30 533.70,701.31 533.75,701.32 533.80,701.33 533.85,701.34 533.90,701.34 533.95,701.35 534.00,701.36 534.05,701.34 534.10,701.32 534.15,701.30 534.20,701.28 534.25,701.26 534.30,701.23 534.35,701.21 534.40,701.19 534.45,701.16 534.50,701.14 534.55,701.11 534.60,701.08 534.65,701.05 534.70,701.02 534.75,700.99 534.80,700.95 534.85,700.92 534.90,700.88 534.95,700.84 535.00,700.79 535.05,700.74 535.10,700.68 535.15,700.61 535.20,700.54 535.25,700.45 535.30,700.34 535.35,700.21 535.40,700.04 535.45,699.82 535.50,699.54 535.55,699.17 535.60,698.68 535.65,698.05 535.70,697.25 535.75,696.23 535.80,694.97 535.85,693.41 535.90,691.54 535.95,689.32 536.00,686.75 536.05,683.87 536.10,680.66 536.15,677.17 536.20,673.47 536.25,669.54 536.30,665.65 536.35,661.84 536.40,658.22 536.45,654.89 536.50,651.94 536.55,649.46 536.60,647.50 536.65,646.08 536.70,645.21 536.75,644.86 536.80,645.01 536.85,645.60 536.90,646.59 536.95,647.93 537.00,649.57 537.05,651.47 537.10,653.61 537.15,655.96 537.20,658.50 537.25,661.20 537.30,664.05 537.35,667.01 537.40,670.03 537.45,673.23 537.50,676.23 537.55,679.16 537.60,681.98 537.65,684.62 537.70,687.06 537.75,689.27 537.80,691.23 537.85,692.94 537.90,694.40 537.95,695.63 538.00,696.64 538.05,697.47 538.10,698.14 538.15,698.66 538.20,699.07 538.25,699.38 538.30,699.61 538.35,699.79 538.40,699.93 538.45,700.03 538.50,700.11 538.55,700.17 538.60,700.22 538.65,700.26 538.70,700.29 538.75,700.32 538.80,700.35 538.85,700.37 538.90,700.39 538.95,700.40 539.00,700.42 539.05,700.45 539.10,700.48 539.15,700.51 539.20,700.54 539.25,700.57 539.30,700.60 539.35,700.62 539.40,700.65 539.45,700.67 539.50,700.70 539.55,700.72 539.60,700.74 539.65,700.77 539.70,700.79 539.75,700.81 539.80,700.83 539.85,700.85 539.90,700.86 539.95,700.88 540.00,700.90 540.05,700.92 540.10,700.95 540.15,700.97 540.20,700.99 540.25,701.01 540.30,701.04 540.35,701.06 540.40,701.08 540.45,701.10 540.50,701.12 540.55,701.14 540.60,701.16 540.65,701.18 540.70,701.20 540.75,701.22 540.80,701.24 540.85,701.25 540.90,701.27 540.95,701.29 541.00,701.31 541.05,701.31 541.10,701.32 541.15,701.32 541.20,701.32 541.25,701.33 541.30,701.33 541.35,701.33 541.40,701.34 541.45,701.34 541.50,701.34 541.55,701.35 541.60,701.35 541.65,701.35 541.70,701.35 541.75,701.36 541.80,701.36 541.85,701.36 541.90,701.36 541.95,701.36 542.00,701.37 542.05,701.36 542.10,701.36 542.15,701.36 542.20,701.36 542.25,701.36 542.30,701.36 542.35,701.35 542.40,701.35 542.45,701.35 542.50,701.35 542.55,701.35 542.60,701.34 542.65,701.34 542.70,701.34 542.75,701.34 542.80,701.33 542.85,701.33 542.90,701.33 542.95,701.33 543.00,701.32 543.05,701.31 543.10,701.30 543.15,701.30 543.20,701.29 543.25,701.28 543.30,701.27 543.35,701.26 543.40,701.25 543.45,701.24 543.50,701.23 543.55,701.22 543.60,701.21 543.65,701.20 543.70,701.19 543.75,701.18 543.80,701.17 543.85,701.16 543.90,701.15 543.95,701.14 544.00,701.13 544.05,701.13 544.10,701.14 544.15,701.15 544.20,701.15 544.25,701.16 544.30,701.17 544.35,701.17 544.40,701.18 544.45,701.19 544.50,701.19 544.55,701.20 544.60,701.21 544.65,701.21 544.70,701.22 544.75,701.23 544.80,701.23 544.85,701.24 544.90,701.24 544.95,701.25 545.00,701.26 545.05,701.26 545.10,701.26 545.15,701.26 545.20,701.27 545.25,701.27 545.30,701.27 545.35,701.27 545.40,701.28 545.45,701.28 545.50,701.28 545.55,701.28 545.60,701.28 545.65,701.29 545.70,701.29 545.75,701.29 545.80,701.29 545.85,701.30 545.90,701.30 545.95,701.30 546.00,701.30 546.05,701.32 546.10,701.33 546.15,701.35 546.20,701.36 546.25,701.38 546.30,701.39 546.35,701.41 546.40,701.42 546.45,701.44 546.50,701.45 546.55,701.47 546.60,701.48 546.65,701.50 546.70,701.51 546.75,701.53 546.80,701.54 546.85,701.56 546.90,701.57 546.95,701.59 547.00,701.60 547.05,701.57 547.10,701.55 547.15,701.52 547.20,701.49 548.00,701.07 549.00,701.49 550.00,701.56 551.00,701.17 552.00,701.63 553.00,701.52 554.00,701.74 555.00,701.40 556.00,701.46 557.00,701.48 558.00,701.66 559.00,701.44 560.00,701.25 561.00,701.29 562.00,701.31 563.00,701.19 564.00,701.33 565.00,701.73 566.00,701.27 567.00,701.63 568.00,701.29 569.00,701.30 570.00,701.40 571.00,701.23 572.00,701.52 573.00,701.84 574.00,701.72 575.00,701.68 576.00,701.42 577.00,701.58 578.00,701.61 579.00,701.39 580.00,701.58 581.00,701.21 582.00,701.64 583.00,701.49 584.00,701.68 585.00,701.62 586.00,701.24 587.00,701.11 588.00,701.62 589.00,701.18 590.00,701.55 591.00,701.48 592.00,701.36 593.00,701.60 594.00,701.69 595.00,701.29 596.00,701.52 597.00,701.32 598.00,701.68 599.00,701.59 600.00,701.25 601.00,701.25 602.00,701.36 603.00,701.74 604.00,701.45 605.00,701.30 606.00,701.69 607.00,701.74 608.00,701.59 609.00,701.42 610.00,701.49 611.00,701.44 612.00,701.37 613.00,701.23 614.00,701.25 615.00,701.27 616.00,701.61 617.00,701.79 618.00,701.54 619.00,701.35 620.00,701.29 621.00,701.35 622.00,701.56 623.00,701.54 624.00,701.23 625.00,701.35 626.00,701.86 627.00,701.40 628.00,701.47 629.00,701.54 630.00,701.82 631.00,701.47 632.00,701.36 633.00,701.35 634.00,701.33 635.00,701.36 636.00,701.59 637.00,701.53 638.00,701.72 639.00,701.25 640.00,701.29 641.00,701.66 642.00,701.85 643.00,701.62 644.00,701.41 645.00,701.09 646.00,701.48 647.00,701.77 648.00,701.63 649.00,701.65 650.00,701.76 651.00,701.36 652.00,701.17 653.00,701.19 654.00,701.44 655.00,701.53 656.00,701.75 657.00,701.63 658.00,701.72 659.00,701.78 660.00,701.35 661.00,701.40 662.00,701.24 663.00,701.65 664.00,701.45 665.00,701.83 666.00,701.73 667.00,701.54 668.00,701.19 669.00,701.26 670.00,701.45 671.00,701.48 672.00,701.43 673.00,701.41 674.00,701.67 675.00,701.70 676.00,701.43 677.00,701.34 678.00,701.41 679.00,701.08 680.00,701.53 681.00,701.62 682.00,701.71 683.00,701.54 684.00,701.84 685.00,701.62 686.00,701.39 687.00,701.40 688.00,701.86 689.00,701.72 690.00,701.28 691.00,701.12 692.00,701.59 693.00,701.69 694.00,701.36 695.00,701.27 696.00,701.56 697.00,701.70 698.00,701.46 699.00,701.36 700.00,701.52 701.00,701.56 702.00,701.49 703.00,701.23 704.00,701.57 705.00,701.54 706.00,701.47 707.00,701.30 708.00,701.76 709.00,701.40 710.00,701.63 711.00,701.31 712.00,701.22 713.00,701.52 714.00,701.30 715.00,701.66 716.00,701.57 717.00,701.40 718.00,701.48 719.00,701.58 720.00,701.44 721.00,701.59 722.00,701.32 723.00,701.46 724.00,701.42 725.00,701.84 726.00,701.15 727.00,701.10 728.00,701.37 729.00,701.55 730.00,701.59 731.00,701.58 732.00,701.66 733.00,701.80 734.00,701.75 735.00,701.42 736.00,701.36 737.00,701.78 738.00,701.57 739.00,701.17 740.00,701.56 741.00,701.40 742.00,701.45 743.00,701.43 744.00,701.29 745.00,701.20 746.00,701.43 747.00,701.46 748.00,701.73 749.00,701.27 750.00,701.73 751.00,701.31 752.00,701.26 753.00,701.51 754.00,701.71 755.00,701.49 756.00,701.24 757.00,701.47 758.00,701.33 759.00,701.63 760.00,701.41 761.00,701.50 762.00,701.80 763.00,701.32 764.00,701.43 765.00,701.65 766.00,701.53 767.00,701.13 768.00,701.22 769.00,701.24 770.00,701.58 771.00,701.22 772.00,701.49 773.00,701.58 774.00,701.37 775.00,701.33 776.00,701.59 777.00,701.40 778.00,701.32 779.00,701.57 780.00,701.36 781.00,701.34 782.00,701.03 783.00,701.43 784.00,701.71 785.00,701.54 786.00,701.52 786.50,701.26 786.55,701.23 786.60,701.20 786.65,701.18 786.70,701.15 786.75,701.12 786.80,701.10 786.85,701.07 786.90,701.05 786.95,701.02 787.00,700.99 787.05,701.01 787.10,701.02 787.15,701.04 787.20,701.05 787.25,701.07 787.30,701.08 787.35,701.10 787.40,701.12 787.45,701.13 787.50,701.15 787.55,701.16 787.60,701.18 787.65,701.19 787.70,701.21 787.75,701.22 787.80,701.24 787.85,701.25 787.90,701.27 787.95,701.28 788.00,701.30 788.05,701.30 788.10,701.31 788.15,701.31 788.20,701.32 788.25,701.32 788.30,701.33 788.35,701.33 788.40,701.34 788.45,701.34 788.50,701.35 788.55,701.35 788.60,701.36 788.65,701.36 788.70,701.37 788.75,701.37 788.80,701.38 788.85,701.38 788.90,701.38 788.95,701.39 789.00,701.39 789.05,701.41 789.10,701.42 789.15,701.43 789.20,701.44 789.25,701.45 789.30,701.46 789.35,701.47 789.40,701.49 789.45,701.50 789.50,701.51 789.55,701.52 789.60,701.53 789.65,701.54 789.70,701.55 789.75,701.56 789.80,701.58 789.85,701.59 789.90,701.60 789.95,701.61 790.00,701.62 790.05,701.62 790.10,701.61 790.15,701.61 790.20,701.60 790.25,701.60 790.30,701.60 790.35,701.59 790.40,701.59 790.45,701.59 790.50,701.58 790.55,701.58 790.60,701.57 790.65,701.57 790.70,701.56 790.75,701.56 790.80,701.55 790.85,701.55 790.90,701.54 790.95,701.54 791.00,701.53 791.05,701.51 791.10,701.48 791.15,701.46 791.20,701.43 791.25,701.40 791.30,701.38 791.35,701.35 791.40,701.32 791.45,701.30 791.50,701.27 791.55,701.24 791.60,701.22 791.65,701.19 791.70,701.16 791.75,701.13 791.80,701.10 791.85,701.08 791.90,701.05 791.95,701.02 792.00,700.99 792.05,700.97 792.10,700.96 792.15,700.95 792.20,700.93 792.25,700.92 792.30,700.90 792.35,700.89 792.40,700.87 792.45,700.85 792.50,700.84 792.55,700.82 792.60,700.80 792.65,700.78 792.70,700.76 792.75,700.74 792.80,700.72 792.85,700.70 792.90,700.68 792.95,700.66 793.00,700.64 793.05,700.61 793.10,700.59 793.15,700.57 793.20,700.54 793.25,700.52 793.30,700.49 793.35,700.46 793.40,700.43 793.45,700.40 793.50,700.37 793.55,700.34 793.60,700.30 793.65,700.27 793.70,700.23 793.75,700.19 793.80,700.15 793.85,700.10 793.90,700.06 793.95,700.01 794.00,699.96 794.05,699.91 794.10,699.86 794.15,699.81 794.20,699.75 794.25,699.69 794.30,699.63 794.35,699.56 794.40,699.49 794.45,699.42 794.50,699.34 794.55,699.25 794.60,699.16 794.65,699.07 794.70,698.96 794.75,698.85 794.80,698.74 794.85,698.61 794.90,698.48 794.95,698.34 795.00,698.18 795.05,698.04 795.10,697.88 795.15,697.71 795.20,697.53 795.25,697.33 795.30,697.12 795.35,696.89 795.40,696.64 795.45,696.37 795.50,696.09 795.55,695.78 795.60,695.45 795.65,695.10 795.70,694.72 795.75,694.33 795.80,693.91 795.85,693.47 795.90,693.02 795.95,692.55 796.00,692.08 796.05,691.56 796.10,691.05 796.15,690.56 796.20,690.09 796.25,689.67 796.30,689.30 796.35,688.99 796.40,688.75 796.45,688.60 796.50,688.53 796.55,688.56 796.60,688.67 796.65,688.86 796.70,689.13 796.75,689.46 796.80,689.85 796.85,690.27 796.90,690.72 796.95,691.19 797.00,691.67 797.05,692.18 797.10,692.68 797.15,693.17 797.20,693.64 797.25,694.09 797.30,694.52 797.35,694.93 797.40,695.31 797.45,695.68 797.50,696.02 797.55,696.34 797.60,696.64 797.65,696.92 797.70,697.19 797.75,697.44 797.80,697.67 797.85,697.89 797.90,698.09 797.95,698.28 798.00,698.46 798.05,698.61 798.10,698.76 798.15,698.89 798.20,699.01 798.25,699.13 798.30,699.24 798.35,699.34 798.40,699.44 798.45,699.53 798.50,699.61 798.55,699.69 798.60,699.77 798.65,699.84 798.70,699.91 798.75,699.97 798.80,700.03 798.85,700.09 798.90,700.14 798.95,700.19 799.00,700.24 799.05,700.30 799.10,700.35 799.15,700.41 799.20,700.46 799.25,700.51 799.30,700.56 799.35,700.60 799.40,700.65 799.45,700.69 799.50,700.74 799.55,700.78 799.60,700.82 799.65,700.85 799.70,700.89 799.75,700.93 799.80,700.96 799.85,701.00 799.90,701.03 799.95,701.06 800.00,701.10 800.05,701.11 800.10,701.13 800.15,701.15 800.20,701.16 800.25,701.18 800.30,701.19 800.35,701.21 800.40,701.22 800.45,701.23 800.50,701.24 800.55,701.26 800.60,701.27 800.65,701.28 800.70,701.29 800.75,701.30 800.80,701.31 800.85,701.32 800.90,701.33 800.95,701.34 801.00,701.34 801.05,701.34 801.10,701.33 801.15,701.32 801.20,701.31 801.25,701.30 801.30,701.29 801.35,701.28 801.40,701.27 801.45,701.26 801.50,701.25 801.55,701.24 801.60,701.22 801.65,701.21 801.70,701.20 801.75,701.19 801.80,701.18 801.85,701.17 801.90,701.15 801.95,701.14 802.00,701.13 802.05,701.13 802.10,701.12 802.15,701.12 802.20,701.12 802.25,701.11 802.30,701.11 802.35,701.11 802.40,701.11 802.45,701.10 802.50,701.10 802.55,701.09 802.60,701.09 802.65,701.09 802.70,701.08 802.75,701.08 802.80,701.08 802.85,701.07 802.90,701.07 802.95,701.06 803.00,701.06 803.05,701.07 803.10,701.09 803.15,701.10 803.20,701.12 803.25,701.13 803.30,701.15 803.35,701.16 803.40,701.18 803.45,701.19 803.50,701.20 803.55,701.22 803.60,701.23 803.65,701.25 803.70,701.26 803.75,701.28 803.80,701.29 803.85,701.30 803.90,701.32 803.95,701.33 804.00,701.35 804.05,701.35 804.10,701.35 804.15,701.36 804.20,701.36 804.25,701.36 804.30,701.36 804.35,701.37 804.40,701.37 804.45,701.37 804.50,701.38 804.55,701.38 804.60,701.38 804.65,701.39 804.70,701.39 804.75,701.39 804.80,701.39 804.85,701.40 804.90,701.40 804.95,701.40 805.00,701.40 805.05,701.42 805.10,701.44 805.15,701.45 805.20,701.47 805.25,701.48 805.30,701.50 805.35,701.51 805.40,701.53 805.45,701.54 805.50,701.56 805.55,701.57 805.60,701.59 805.65,701.60 805.70,701.62 805.75,701.63 805.80,701.65 805.85,701.66 805.90,701.68 805.95,701.69 806.00,701.71 806.05,701.69 806.10,701.67 806.15,701.65 806.20,701.63 806.25,701.61 806.30,701.60 806.35,701.58 806.40,701.56 806.45,701.54 806.50,701.52 807.00,701.34 808.00,701.33 809.00,701.65 810.00,701.40 811.00,701.31 812.00,701.09 813.00,701.38 814.00,701.52 815.00,701.88 816.00,701.67 817.00,701.73 818.00,701.48 819.00,701.39 820.00,701.38 821.00,701.60 822.00,701.47 823.00,701.32 824.00,701.41 825.00,701.51 826.00,701.67 827.00,701.70 828.00,701.45 829.00,701.50 830.00,701.50 831.00,701.19 832.00,701.72 833.00,701.42 834.00,701.36 835.00,701.25 836.00,701.69 837.00,701.38 838.00,701.19 839.00,701.18 840.00,701.29 841.00,701.67 841.05,701.65 841.10,701.63 841.15,701.61 841.20,701.59 841.25,701.57 841.30,701.55 841.35,701.53 841.40,701.51 841.45,701.48 841.50,701.46 841.55,701.44 841.60,701.42 841.65,701.40 841.70,701.38 841.75,701.36 841.80,701.34 841.85,701.32 841.90,701.30 841.95,701.27 842.00,701.25 842.05,701.25 842.10,701.24 842.15,701.23 842.20,701.22 842.25,701.21 842.30,701.20 842.35,701.19 842.40,701.18 842.45,701.18 842.50,701.17 842.55,701.16 842.60,701.15 842.65,701.14 842.70,701.13 842.75,701.12 842.80,701.11 842.85,701.10 842.90,701.10 842.95,701.09 843.00,701.08 843.05,701.08 843.10,701.09 843.15,701.09 843.20,701.10 843.25,701.10 843.30,701.11 843.35,701.12 843.40,701.12 843.45,701.13 843.50,701.13 843.55,701.14 843.60,701.14 843.65,701.15 843.70,701.15 843.75,701.16 843.80,701.16 843.85,701.17 843.90,701.17 843.95,701.18 844.00,701.18 844.05,701.19 844.10,701.21 844.15,701.22 844.20,701.23 844.25,701.25 844.30,701.26 844.35,701.27 844.40,701.28 844.45,701.30 844.50,701.31 844.55,701.32 844.60,701.33 844.65,701.35 844.70,701.36 844.75,701.37 844.80,701.38 844.85,701.39 844.90,701.41 844.95,701.42 845.00,701.43 845.05,701.42 845.10,701.41 845.15,701.39 845.20,701.38 845.25,701.37 845.30,701.36 845.35,701.35 845.40,701.33 845.45,701.32 845.50,701.31 845.55,701.30 845.60,701.28 845.65,701.27 845.70,701.26 845.75,701.24 845.80,701.23 845.85,701.22 845.90,701.20 845.95,701.19 846.00,701.17 846.05,701.16 846.10,701.14 846.15,701.13 846.20,701.11 846.25,701.09 846.30,701.08 846.35,701.06 846.40,701.04 846.45,701.02 846.50,701.01 846.55,700.99 846.60,700.97 846.65,700.95 846.70,700.93 846.75,700.91 846.80,700.89 846.85,700.87 846.90,700.85 846.95,700.83 847.00,700.81 847.05,700.80 847.10,700.79 847.15,700.77 847.20,700.76 847.25,700.75 847.30,700.74 847.35,700.72 847.40,700.71 847.45,700.69 847.50,700.68 847.55,700.66 847.60,700.64 847.65,700.62 847.70,700.61 847.75,700.59 847.80,700.56 847.85,700.54 847.90,700.52 847.95,700.50 848.00,700.47 848.05,700.44 848.10,700.40 848.15,700.36 848.20,700.32 848.25,700.28 848.30,700.24 848.35,700.20 848.40,700.15 848.45,700.10 848.50,700.05 848.55,700.00 848.60,699.95 848.65,699.89 848.70,699.83 848.75,699.77 848.80,699.71 848.85,699.64 848.90,699.57 848.95,699.50 849.00,699.42 849.05,699.35 849.10,699.27 849.15,699.19 849.20,699.09 849.25,698.99 849.30,698.86 849.35,698.72 849.40,698.53 849.45,698.30 849.50,697.99 849.55,697.59 849.60,697.05 849.65,696.33 849.70,695.35 849.75,694.05 849.80,692.30 849.85,690.00 849.90,687.00 849.95,683.12 850.00,678.19 850.05,671.97 850.10,664.15 850.15,654.86 850.20,643.75 850.25,630.70 850.30,615.64 850.35,598.57 850.40,579.59 850.45,558.93 850.50,536.91 850.55,513.97 850.60,490.67 850.65,467.66 850.70,445.65 850.75,425.38 850.80,407.58 850.85,392.93 850.90,382.02 850.95,375.28 851.00,373.00 851.05,375.27 851.10,382.00 851.15,392.91 851.20,407.55 851.25,425.33 851.30,445.60 851.35,467.60 851.40,490.60 851.45,513.89 851.50,536.82 851.55,558.83 851.60,579.49 851.65,598.45 851.70,615.51 851.75,630.57 851.80,643.61 851.85,654.71 851.90,663.99 851.95,671.60 852.00,677.80 852.05,682.74 852.10,686.63 852.15,689.64 852.20,691.95 852.25,693.70 852.30,695.02 852.35,696.00 852.40,696.74 852.45,697.28 852.50,697.69 852.55,698.00 852.60,698.24 852.65,698.44 852.70,698.59 852.75,698.72 852.80,698.83 852.85,698.93 852.90,699.02 852.95,699.10 853.00,699.18 853.05,699.23 853.10,699.28 853.15,699.33 853.20,699.38 853.25,699.42 853.30,699.45 853.35,699.49 853.40,699.52 853.45,699.54 853.50,699.57 853.55,699.59 853.60,699.61 853.65,699.63 853.70,699.64 853.75,699.65 853.80,699.66 853.85,699.67 853.90,699.67 853.95,699.67 854.00,699.67 854.05,699.67 854.10,699.67 854.15,699.67 854.20,699.66 854.25,699.65 854.30,699.64 854.35,699.63 854.40,699.61 854.45,699.60 854.50,699.58 854.55,699.55 854.60,699.53 854.65,699.50 854.70,699.46 854.75,699.43 854.80,699.39 854.85,699.35 854.90,699.30 854.95,699.25 855.00,699.20 855.05,699.11 855.10,699.02 855.15,698.92 855.20,698.81 855.25,698.69 855.30,698.57 855.35,698.43 855.40,698.27 855.45,698.08 855.50,697.86 855.55,697.58 855.60,697.23 855.65,696.77 855.70,696.17 855.75,695.36 855.80,694.29 855.85,692.87 855.90,690.97 855.95,688.48 856.00,685.24 856.05,681.10 856.10,675.83 856.15,669.61 856.20,661.44 856.25,651.52 856.30,639.65 856.35,625.70 856.40,609.61 856.45,591.36 856.50,571.09 856.55,549.00 856.60,525.46 856.65,500.95 856.70,476.04 856.75,451.45 856.80,427.92 856.85,406.26 856.90,387.24 856.95,371.59 857.00,359.93 857.05,352.73 857.10,350.30 857.15,352.74 857.20,359.94 857.25,371.61 857.30,387.27 857.35,406.30 857.40,427.97 857.45,451.51 857.50,476.11 857.55,501.02 857.60,525.55 857.65,549.10 857.70,571.19 857.75,591.47 857.80,609.72 857.85,625.83 857.90,639.79 857.95,651.66 858.00,661.60 858.05,669.78 858.10,676.09 858.15,681.37 858.20,685.53 858.25,688.76 858.30,691.23 858.35,693.11 858.40,694.52 858.45,695.57 858.50,696.36 858.55,696.95 858.60,697.39 858.65,697.73 858.70,697.99 858.75,698.20 858.80,698.37 858.85,698.52 858.90,698.64 858.95,698.75 859.00,698.85 859.05,698.97 859.10,699.07 859.15,699.17 859.20,699.27 859.25,699.36 859.30,699.45 859.35,699.54 859.40,699.62 859.45,699.70 859.50,699.78 859.55,699.85 859.60,699.92 859.65,699.99 859.70,700.06 859.75,700.12 859.80,700.19 859.85,700.25 859.90,700.31 859.95,700.36 860.00,700.42 860.05,700.44 860.10,700.47 860.15,700.49 860.20,700.51 860.25,700.52 860.30,700.54 860.35,700.56 860.40,700.57 860.45,700.59 860.50,700.60 860.55,700.61 860.60,700.62 860.65,700.63 860.70,700.64 860.75,700.65 860.80,700.66 860.85,700.67 860.90,700.67 860.95,700.68 861.00,700.69 861.05,700.73 861.10,700.76 861.15,700.80 861.20,700.84 861.25,700.87 861.30,700.91 861.35,700.95 861.40,700.98 861.45,701.02 861.50,701.05 861.55,701.08 861.60,701.12 861.65,701.15 861.70,701.18 861.75,701.22 861.80,701.25 861.85,701.28 861.90,701.31 861.95,701.34 862.00,701.38 862.05,701.37 862.10,701.36 862.15,701.36 862.20,701.35 862.25,701.34 862.30,701.33 862.35,701.33 862.40,701.32 862.45,701.31 862.50,701.30 862.55,701.29 862.60,701.28 862.65,701.27 862.70,701.27 862.75,701.26 862.80,701.25 862.85,701.24 862.90,701.23 862.95,701.22 863.00,701.21 863.05,701.22 863.10,701.24 863.15,701.25 863.20,701.27 863.25,701.28 863.30,701.29 863.35,701.31 863.40,701.32 863.45,701.34 863.50,701.35 863.55,701.36 863.60,701.38 863.65,701.39 863.70,701.40 863.75,701.42 863.80,701.43 863.85,701.44 863.90,701.46 863.95,701.47 864.00,701.48 864.05,701.47 864.10,701.47 864.15,701.46 864.20,701.45 864.25,701.44 864.30,701.43 864.35,701.43 864.40,701.42 864.45,701.41 864.50,701.40 864.55,701.39 864.60,701.38 864.65,701.37 864.70,701.37 864.75,701.36 864.80,701.35 864.85,701.34 864.90,701.33 864.95,701.32 865.00,701.31 865.05,701.31 865.10,701.31 865.15,701.31 865.20,701.31 865.25,701.32 865.30,701.32 865.35,701.32 865.40,701.32 865.45,701.32 865.50,701.32 865.55,701.32 865.60,701.32 865.65,701.32 865.70,701.32 865.75,701.32 865.80,701.32 865.85,701.32 865.90,701.32 865.95,701.32 866.00,701.32 866.05,701.34 866.10,701.35 866.15,701.37 866.20,701.38 866.25,701.40 866.30,701.42 866.35,701.43 866.40,701.45 866.45,701.46 866.50,701.48 866.55,701.49 866.60,701.51 866.65,701.53 866.70,701.54 866.75,701.56 866.80,701.57 866.85,701.59 866.90,701.60 866.95,701.62 867.00,701.64 867.05,701.63 867.10,701.62 868.00,701.51 869.00,701.07 870.00,701.55 871.00,701.58 872.00,701.15 873.00,701.24 874.00,701.26 875.00,701.30 876.00,701.36 877.00,701.56 878.00,701.50 879.00,701.25 880.00,701.32 881.00,701.50 882.00,701.59 883.00,701.32 884.00,701.40 885.00,701.34 886.00,701.77 887.00,701.63 888.00,701.11 889.00,701.13 890.00,701.59 891.00,701.67 892.00,701.60 893.00,701.30 894.00,701.27 895.00,701.56 896.00,701.54 897.00,701.47 898.00,701.30 899.00,701.66 900.00,701.55 901.00,701.69 902.00,701.44 903.00,701.47 904.00,701.64 905.00,701.72 906.00,701.50 907.00,701.41 908.00,701.60 909.00,701.31 910.00,701.11 911.00,701.61 912.00,701.53 913.00,701.75 914.00,701.29 915.00,701.55 916.00,701.58 917.00,701.41 918.00,701.15 919.00,701.44 920.00,701.62 921.00,701.77 922.00,701.43 923.00,701.72 924.00,701.45 925.00,701.53 926.00,701.35 927.00,701.43 928.00,701.45 929.00,701.67 930.00,701.12 931.00,701.33 932.00,701.51 933.00,701.60 934.00,701.21 935.00,701.17 936.00,701.78 937.00,701.80 938.00,701.46 939.00,701.23 940.00,701.73 941.00,701.44 942.00,701.85 943.00,701.69 944.00,701.55 945.00,701.19 946.00,701.56 947.00,701.25 948.00,701.49 949.00,701.74 950.00,701.52 951.00,701.16 952.00,701.18 953.00,701.28 954.00,701.46 955.00,701.39 956.00,701.16 957.00,701.23 958.00,701.57 959.00,701.67 960.00,701.15 961.00,701.44 962.00,701.67 963.00,701.27 964.00,701.71 965.00,701.32 966.00,701.45 967.00,701.43 968.00,701.61 969.00,701.43 970.00,701.44 971.00,701.53 972.00,701.34 973.00,701.46 974.00,701.61 975.00,701.61 976.00,701.15 977.00,701.48 978.00,701.38 979.00,701.24 980.00,701.51 981.00,701.52 982.00,701.52 983.00,701.37 984.00,701.60 985.00,701.40 986.00,701.38 987.00,701.55 988.00,701.24 989.00,701.43 990.00,701.42 991.00,701.16 992.00,701.41 993.00,701.10 994.00,701.67 995.00,701.69 996.00,701.52 997.00,701.27 998.00,701.44 999.00,701.37 1000.00,701.79 1001.00,701.34 1002.00,701.66 1003.00,701.74 1004.00,701.75 1005.00,701.79 1005.05,701.77 1005.10,701.75 1005.15,701.73 1005.20,701.71 1005.25,701.69 1005.30,701.67 1005.35,701.65 1005.40,701.63 1005.45,701.61 1005.50,701.59 1005.55,701.57 1005.60,701.55 1005.65,701.53 1005.70,701.50 1005.75,701.48 1005.80,701.46 1005.85,701.44 1005.90,701.42 1005.95,701.40 1006.00,701.38 1006.05,701.40 1006.10,701.42 1006.15,701.44 1006.20,701.47 1006.25,701.49 1006.30,701.51 1006.35,701.53 1006.40,701.55 1006.45,701.57 1006.50,701.59 1006.55,701.62 1006.60,701.64 1006.65,701.66 1006.70,701.68 1006.75,701.70 1006.80,701.72 1006.85,701.74 1006.90,701.76 1006.95,701.79 1007.00,701.81 1007.05,701.79 1007.10,701.76 1007.15,701.74 1007.20,701.72 1007.25,701.70 1007.30,701.68 1007.35,701.65 1007.40,701.63 1007.45,701.61 1007.50,701.59 1007.55,701.57 1007.60,701.54 1007.65,701.52 1007.70,701.50 1007.75,701.48 1007.80,701.46 1007.85,701.43 1007.90,701.41 1007.95,701.39 1008.00,701.37 1008.05,701.38 1008.10,701.39 1008.15,701.40 1008.20,701.42 1008.25,701.43 1008.30,701.44 1008.35,701.45 1008.40,701.46 1008.45,701.48 1008.50,701.49 1008.55,701.50 1008.60,701.51 1008.65,701.52 1008.70,701.54 1008.75,701.55 1008.80,701.56 1008.85,701.57 1008.90,701.58 1008.95,701.60 1009.00,701.61 1009.05,701.62 1009.10,701.62 1009.15,701.63 1009.20,701.64 1009.25,701.65 1009.30,701.66 1009.35,701.67 1009.40,701.68 1009.45,701.68 1009.50,701.69 1009.55,701.70 1009.60,701.71 1009.65,701.72 1009.70,701.73 1009.75,701.74 1009.80,701.74 1009.85,701.75 1009.90,701.76 1009.95,701.77 1010.00,701.78 1010.05,701.75 1010.10,701.73 1010.15,701.71 1010.20,701.69 1010.25,701.66 1010.30,701.64 1010.35,701.62 1010.40,701.60 1010.45,701.57 1010.50,701.55 1010.55,701.53 1010.60,701.50 1010.65,701.48 1010.70,701.46 1010.75,701.44 1010.80,701.41 1010.85,701.39 1010.90,701.37 1010.95,701.34 1011.00,701.32 1011.05,701.32 1011.10,701.32 1011.15,701.32 1011.20,701.32 1011.25,701.32 1011.30,701.32 1011.35,701.31 1011.40,701.31 1011.45,701.31 1011.50,701.31 1011.55,701.31 1011.60,701.31 1011.65,701.31 1011.70,701.30 1011.75,701.30 1011.80,701.30 1011.85,701.30 1011.90,701.29 1011.95,701.29 1012.00,701.29 1012.05,701.28 1012.10,701.28 1012.15,701.28 1012.20,701.27 1012.25,701.27 1012.30,701.26 1012.35,701.26 1012.40,701.25 1012.45,701.25 1012.50,701.24 1012.55,701.24 1012.60,701.23 1012.65,701.22 1012.70,701.21 1012.75,701.20 1012.80,701.19 1012.85,701.18 1012.90,701.17 1012.95,701.16 1013.00,701.14 1013.05,701.11 1013.10,701.07 1013.15,701.04 1013.20,701.00 1013.25,700.96 1013.30,700.91 1013.35,700.86 1013.40,700.80 1013.45,700.73 1013.50,700.64 1013.55,700.51 1013.60,700.34 1013.65,700.10 1013.70,699.76 1013.75,699.27 1013.80,698.56 1013.85,697.56 1013.90,696.16 1013.95,694.23 1014.00,691.60 1014.05,688.11 1014.10,683.53 1014.15,677.62 1014.20,670.36 1014.25,661.12 1014.30,649.93 1014.35,636.67 1014.40,621.31 1014.45,603.93 1014.50,584.74 1014.55,564.11 1014.60,542.55 1014.65,520.71 1014.70,499.36 1014.75,479.31 1014.80,461.43 1014.85,446.53 1014.90,435.32 1014.95,428.36 1015.00,426.00 1015.05,428.36 1015.10,435.32 1015.15,446.53 1015.20,461.43 1015.25,479.31 1015.30,499.36 1015.35,520.71 1015.40,542.55 1015.45,564.11 1015.50,584.74 1015.55,603.93 1015.60,621.31 1015.65,636.67 1015.70,649.93 1015.75,661.12 1015.80,670.36 1015.85,677.91 1015.90,683.83 1015.95,688.43 1016.00,691.94 1016.05,694.54 1016.10,696.44 1016.15,697.81 1016.20,698.77 1016.25,699.44 1016.30,699.91 1016.35,700.22 1016.40,700.42 1016.45,700.56 1016.50,700.65 1016.55,700.71 1016.60,700.75 1016.65,700.78 1016.70,700.80 1016.75,700.81 1016.80,700.82 1016.85,700.83 1016.90,700.83 1016.95,700.84 1017.00,700.84 1017.05,700.87 1017.10,700.91 1017.15,700.94 1017.20,700.97 1017.25,701.00 1017.30,701.03 1017.35,701.06 1017.40,701.09 1017.45,701.12 1017.50,701.15 1017.55,701.18 1017.60,701.21 1017.65,701.23 1017.70,701.26 1017.75,701.29 1017.80,701.31 1017.85,701.34 1017.90,701.36 1017.95,701.39 1018.00,701.41 1018.05,701.40 1018.10,701.39 1018.15,701.38 1018.20,701.37 1018.25,701.35 1018.30,701.34 1018.35,701.33 1018.40,701.32 1018.45,701.31 1018.50,701.29 1018.55,701.28 1018.60,701.27 1018.65,701.25 1018.70,701.24 1018.75,701.23 1018.80,701.21 1018.85,701.20 1018.90,701.19 1018.95,701.17 1019.00,701.16 1019.05,701.17 1019.10,701.19 1019.15,701.20 1019.20,701.22 1019.25,701.23 1019.30,701.25 1019.35,701.26 1019.40,701.28 1019.45,701.29 1019.50,701.30 1019.55,701.32 1019.60,701.33 1019.65,701.35 1019.70,701.36 1019.75,701.37 1019.80,701.39 1019.85,701.40 1019.90,701.41 1019.95,701.43 1020.00,701.44 1020.05,701.43 1020.10,701.41 1020.15,701.39 1020.20,701.37 1020.25,701.36 1020.30,701.34 1020.35,701.32 1020.40,701.31 1020.45,701.29 1020.50,701.27 1020.55,701.25 1020.60,701.24 1020.65,701.22 1020.70,701.20 1020.75,701.18 1020.80,701.17 1020.85,701.15 1020.90,701.13 1020.95,701.12 1021.00,701.10 1021.05,701.12 1021.10,701.14 1021.15,701.17 1021.20,701.19 1021.25,701.21 1021.30,701.23 1021.35,701.26 1021.40,701.28 1021.45,701.30 1021.50,701.32 1021.55,701.35 1021.60,701.37 1021.65,701.39 1021.70,701.41 1021.75,701.44 1021.80,701.46 1021.85,701.48 1021.90,701.50 1021.95,701.53 1022.00,701.55 1022.05,701.56 1022.10,701.57 1022.15,701.58 1022.20,701.60 1022.25,701.61 1022.30,701.62 1022.35,701.63 1022.40,701.64 1022.45,701.66 1022.50,701.67 1022.55,701.68 1022.60,701.69 1022.65,701.70 1022.70,701.72 1022.75,701.73 1022.80,701.74 1022.85,701.75 1022.90,701.76 1022.95,701.78 1023.00,701.79 1023.05,701.76 1023.10,701.72 1023.15,701.69 1023.20,701.66 1023.25,701.63 1023.30,701.60 1023.35,701.57 1023.40,701.53 1023.45,701.50 1023.50,701.47 1023.55,701.44 1023.60,701.41 1023.65,701.37 1023.70,701.34 1023.75,701.31 1023.80,701.28 1023.85,701.25 1023.90,701.21 1023.95,701.18 1024.00,701.15 1024.05,701.15 1024.10,701.15 1024.15,701.16 1024.20,701.16 1024.25,701.16 1024.30,701.16 1024.35,701.16 1024.40,701.17 1024.45,701.17 1024.50,701.17 1024.55,701.17 1024.60,701.17 1024.65,701.17 1024.70,701.18 1024.75,701.18 1024.80,701.18 1024.85,701.18 1024.90,701.18 1024.95,701.18 1025.00,701.19 1026.00,701.50 1027.00,701.40 1028.00,701.38 1029.00,701.46 1030.00,701.18 1031.00,701.61 1032.00,701.49 1033.00,701.61 1034.00,701.35 1035.00,701.69 1036.00,701.28 1037.00,701.51 1038.00,701.62 1039.00,701.46 1040.00,701.80 1041.00,701.63 1042.00,701.43 1043.00,701.60 1044.00,701.22 1045.00,701.71 1046.00,701.50 1047.00,701.37 1048.00,701.51 1049.00,701.22 1050.00,701.90 1051.00,701.67 1052.00,701.51 1053.00,701.74 1054.00,701.54 1055.00,701.39 1056.00,701.47 1057.00,701.09 1058.00,701.79 1059.00,701.48 1060.00,701.66 1061.00,701.85 1062.00,701.53 1063.00,701.58 1064.00,701.48 1065.00,701.30 1066.00,701.23 1067.00,701.29 1068.00,701.47 1069.00,701.37 1070.00,701.38 1071.00,701.59 1072.00,701.21 1073.00,701.26 1074.00,701.43 1075.00,701.08 1076.00,701.17 1077.00,701.36 1078.00,701.36 1079.00,701.50 1080.00,701.41 1081.00,701.61 1082.00,701.66" fill="none" stroke="#742c34" stroke-width="1.8" stroke-linejoin="round"/>
<polygon points="514.00,701.30 514.05,701.30 514.10,701.29 514.15,701.29 514.20,701.29 514.25,701.28 514.30,701.28 514.35,701.27 514.40,701.27 514.45,701.27 514.50,701.26 514.55,701.26 514.60,701.25 514.65,701.25 514.70,701.24 514.75,701.23 514.80,701.23 514.85,701.22 514.90,701.22 514.95,701.21 515.00,701.20 515.05,701.20 515.10,701.19 515.15,701.18 515.20,701.17 515.25,701.17 515.30,701.16 515.35,701.15 515.40,701.14 515.45,701.13 515.50,701.12 515.55,701.11 515.60,701.10 515.65,701.09 515.70,701.08 515.75,701.07 515.80,701.06 515.85,701.04 515.90,701.03 515.95,701.02 516.00,701.00 516.05,700.99 516.10,700.97 516.15,700.96 516.20,700.94 516.25,700.92 516.30,700.90 516.35,700.88 516.40,700.86 516.45,700.84 516.50,700.81 516.55,700.79 516.60,700.76 516.65,700.73 516.70,700.70 516.75,700.67 516.80,700.63 516.85,700.58 516.90,700.52 516.95,700.46 517.00,700.37 517.05,700.25 517.10,700.10 517.15,699.90 517.20,699.63 517.25,699.28 517.30,698.81 517.35,698.18 517.40,697.38 517.45,696.35 517.50,695.05 517.55,693.43 517.60,691.45 517.65,689.08 517.70,686.29 517.75,683.06 517.80,679.40 517.85,675.34 517.90,670.93 517.95,666.22 518.00,661.31 518.05,656.27 518.10,651.19 518.15,646.11 518.20,641.03 518.25,635.85 518.30,630.41 518.35,624.43 518.40,617.50 518.45,617.50 518.50,617.50 518.55,617.50 518.60,617.50 518.65,617.50 518.70,617.50 518.75,617.50 518.80,617.50 518.85,617.50 518.90,617.50 518.95,617.50 519.00,617.50 519.05,617.50 519.10,617.50 519.15,617.50 519.20,617.50 519.25,617.50 519.30,617.50 519.35,617.50 519.40,617.50 519.45,617.50 519.50,617.50 519.55,617.50 519.60,617.50 519.65,617.50 519.70,617.50 519.75,617.50 519.80,617.50 519.85,621.55 519.90,623.99 519.95,625.21 520.00,625.53 520.05,625.19 520.10,624.36 520.15,623.19 520.20,621.78 520.25,620.26 520.30,618.74 520.35,617.50 520.40,617.50 520.45,617.50 520.50,617.50 520.55,617.50 520.60,617.50 520.65,619.71 520.70,622.75 520.75,626.58 520.80,631.11 520.85,636.23 520.90,641.77 520.95,647.58 521.00,653.48 521.05,659.31 521.10,664.94 521.15,670.22 521.20,675.09 521.25,679.47 521.30,683.33 521.35,686.67 521.40,689.50 521.45,691.86 521.50,693.79 521.55,695.34 521.60,696.57 521.65,697.53 521.70,698.27 521.75,698.84 521.80,699.27 521.85,699.59 521.90,699.83 521.95,700.01 522.00,700.15 522.05,700.25 522.10,700.34 522.15,700.40 522.20,700.46 522.25,700.51 522.30,700.55 522.35,700.59 522.40,700.63 522.45,700.66 522.50,700.69 522.55,700.72 522.60,700.75 522.65,700.77 522.70,700.79 522.75,700.82 522.80,700.84 522.85,700.86 522.90,700.88 522.95,700.90 523.00,700.92 523.05,700.93 523.10,700.95 523.15,700.97 523.20,700.98 523.25,701.00 523.30,701.01 523.35,701.02 523.40,701.04 523.45,701.05 523.50,701.06 523.55,701.07 523.60,701.08 523.65,701.09 523.70,701.10 523.75,701.11 523.80,701.12 523.85,701.13 523.90,701.14 523.95,701.14 524.00,701.15 524.05,701.16 524.10,701.17 524.15,701.17 524.20,701.18 524.25,701.19 524.30,701.19 524.35,701.20 524.40,701.21 524.45,701.21 524.50,701.22 524.55,701.22 524.60,701.23 524.65,701.23 524.70,701.24 524.75,701.24 524.80,701.25 524.85,701.25 524.90,701.25 524.95,701.26 525.00,701.26 525.05,701.27 525.10,701.27 525.15,701.27 525.20,701.28 525.25,701.28 525.30,701.28 525.35,701.29 525.40,701.29 525.45,701.29 525.50,701.30 525.55,701.30 525.60,701.30 525.65,701.30 525.70,701.31 525.75,701.31 525.80,701.31 525.85,701.31 525.90,701.32 525.95,701.32 526.00,701.32 526.05,701.32 526.10,701.32 526.15,701.33 526.20,701.33 526.25,701.33 526.30,701.33 526.35,701.33 526.40,701.34 526.45,701.34 526.50,701.34 526.55,701.34 526.60,701.34 526.65,701.34 526.70,701.34 526.75,701.35 526.80,701.35 526.85,701.35 526.90,701.35 526.95,701.35 527.00,701.35 527.05,701.35 527.10,701.35 527.15,701.36 527.20,701.36 527.25,701.36 527.30,701.36 527.35,701.36 527.40,701.36 527.45,701.36 527.50,701.36 527.55,701.36 527.60,701.36 527.65,701.36 527.70,701.36 527.75,701.37 527.80,701.37 527.85,701.37 527.90,701.37 527.95,701.37 528.00,701.37 528.05,701.37 528.10,701.37 528.15,701.37 528.20,701.37 528.25,701.37 528.30,701.37 528.35,701.37 528.40,701.37 528.45,701.37 528.50,701.37 528.55,701.37 528.60,701.37 528.65,701.37 528.70,701.37 528.75,701.37 528.80,701.37 528.85,701.37 528.90,701.37 528.95,701.37 529.00,701.37 529.05,701.37 529.10,701.37 529.15,701.37 529.20,701.37 529.25,701.37 529.30,701.37 529.35,701.37 529.40,701.37 529.45,701.37 529.50,701.37 529.55,701.37 529.60,701.37 529.65,701.37 529.70,701.37 529.75,701.37 529.80,701.37 529.85,701.37 529.90,701.37 529.95,701.37 530.00,701.37 530.05,701.37 530.10,701.37 530.15,701.37 530.20,701.36 530.25,701.36 530.30,701.36 530.35,701.36 530.40,701.36 530.45,701.36 530.50,701.36 530.55,701.36 530.60,701.36 530.65,701.36 530.70,701.36 530.75,701.35 530.80,701.35 530.85,701.35 530.90,701.35 530.95,701.35 531.00,701.35 531.05,701.35 531.10,701.35 531.15,701.34 531.20,701.34 531.25,701.34 531.30,701.34 531.35,701.34 531.40,701.34 531.45,701.33 531.50,701.33 531.55,701.33 531.60,701.33 531.65,701.33 531.70,701.32 531.75,701.32 531.80,701.32 531.85,701.32 531.90,701.31 531.95,701.31 532.00,701.31 532.05,701.31 532.10,701.30 532.15,701.30 532.20,701.30 532.25,701.29 532.30,701.29 532.35,701.29 532.40,701.28 532.45,701.28 532.50,701.28 532.55,701.27 532.60,701.27 532.65,701.26 532.70,701.26 532.75,701.25 532.80,701.25 532.85,701.24 532.90,701.24 532.95,701.23 533.00,701.23 533.05,701.22 533.10,701.22 533.15,701.21 533.20,701.20 533.25,701.20 533.30,701.19 533.35,701.18 533.40,701.17 533.45,701.17 533.50,701.16 533.55,701.15 533.60,701.14 533.65,701.13 533.70,701.12 533.75,701.11 533.80,701.10 533.85,701.09 533.90,701.08 533.95,701.07 534.00,701.05 534.05,701.04 534.10,701.02 534.15,701.01 534.20,700.99 534.25,700.98 534.30,700.96 534.35,700.94 534.40,700.92 534.45,700.90 534.50,700.88 534.55,700.86 534.60,700.84 534.65,700.81 534.70,700.79 534.75,700.76 534.80,700.73 534.85,700.70 534.90,700.66 534.95,700.63 535.00,700.59 535.05,700.55 535.10,700.50 535.15,700.44 535.20,700.38 535.25,700.30 535.30,700.20 535.35,700.08 535.40,699.92 535.45,699.71 535.50,699.44 535.55,699.08 535.60,698.60 535.65,697.98 535.70,697.19 535.75,696.18 535.80,694.93 535.85,693.38 535.90,691.52 535.95,689.31 536.00,686.76 536.05,683.85 536.10,680.62 536.15,677.12 536.20,673.39 536.25,669.54 536.30,665.65 536.35,661.84 536.40,658.22 536.45,654.89 536.50,651.94 536.55,649.46 536.60,647.50 536.65,646.08 536.70,645.21 536.75,644.86 536.80,645.01 536.85,645.60 536.90,646.59 536.95,647.93 537.00,649.57 537.05,651.47 537.10,653.61 537.15,655.96 537.20,658.50 537.25,661.20 537.30,664.05 537.35,667.01 537.40,670.03 537.45,673.09 537.50,676.12 537.55,679.08 537.60,681.91 537.65,684.58 537.70,687.05 537.75,689.28 537.80,691.27 537.85,693.00 537.90,694.49 537.95,695.74 538.00,696.78 538.05,697.62 538.10,698.30 538.15,698.84 538.20,699.25 538.25,699.58 538.30,699.83 538.35,700.02 538.40,700.17 538.45,700.28 538.50,700.38 538.55,700.45 538.60,700.51 538.65,700.56 538.70,700.61 538.75,700.65 538.80,700.69 538.85,700.72 538.90,700.75 538.95,700.78 539.00,700.81 539.05,700.83 539.10,700.86 539.15,700.88 539.20,700.90 539.25,700.92 539.30,700.94 539.35,700.96 539.40,700.98 539.45,701.00 539.50,701.01 539.55,701.03 539.60,701.05 539.65,701.06 539.70,701.07 539.75,701.09 539.80,701.10 539.85,701.11 539.90,701.12 539.95,701.13 540.00,701.14 540.05,701.15 540.10,701.16 540.15,701.17 540.20,701.18 540.25,701.19 540.30,701.20 540.35,701.20 540.40,701.21 540.45,701.22 540.50,701.23 540.55,701.23 540.60,701.24 540.65,701.24 540.70,701.25 540.75,701.26 540.80,701.26 540.85,701.27 540.90,701.27 540.95,701.28 541.00,701.28" fill="#a83a48" stroke="#a03442" stroke-width="0.8"/>
<polyline points="518.45,609.15 518.50,598.87 518.55,586.14 518.60,570.60 518.65,552.05 518.70,530.65 518.75,506.88 518.80,481.67 518.85,456.30 518.90,432.33 518.95,411.45 519.00,395.28 519.05,385.17 519.10,382.00 519.15,386.08 519.20,397.10 519.25,414.14 519.30,435.85 519.35,460.59 519.40,486.63 519.45,512.37 519.50,536.46 519.55,557.94 519.60,576.23 519.65,591.14 519.70,602.75 519.75,611.39" fill="none" stroke="#fff" stroke-width="2.0" stroke-linejoin="round"/>
<polyline points="518.30,630.41 518.35,624.43 518.40,617.50 518.45,609.15 518.50,598.87 518.55,586.14 518.60,570.60 518.65,552.05 518.70,530.65 518.75,506.88 518.80,481.67 518.85,456.30 518.90,432.33 518.95,411.45 519.00,395.28 519.05,385.17 519.10,382.00 519.15,386.08 519.20,397.10 519.25,414.14 519.30,435.85 519.35,460.59 519.40,486.63 519.45,512.37 519.50,536.46 519.55,557.94 519.60,576.23 519.65,591.14 519.70,602.75 519.75,611.39 519.80,617.50 519.85,621.55 519.90,623.99" fill="none" stroke="#b06870" stroke-width="1.2" stroke-linejoin="round"/>
<polyline points="849.70,695.35 849.75,694.05 849.80,692.30 849.85,690.00 849.90,687.00 849.95,683.12 850.00,678.19 850.05,671.97 850.10,664.15 850.15,654.86 850.20,643.75 850.25,630.70 850.30,615.64 850.35,598.57 850.40,579.59 850.45,558.93 850.50,536.91 850.55,513.97 850.60,490.67 850.65,467.66 850.70,445.65 850.75,425.38 850.80,407.58 850.85,392.93 850.90,382.02 850.95,375.28 851.00,373.00 851.05,375.27 851.10,382.00 851.15,392.91 851.20,407.55 851.25,425.33 851.30,445.60 851.35,467.60 851.40,490.60 851.45,513.89 851.50,536.82 851.55,558.83 851.60,579.49 851.65,598.45 851.70,615.51 851.75,630.57 851.80,643.61 851.85,654.71 851.90,663.99 851.95,671.60 852.00,677.80 852.05,682.74 852.10,686.63 852.15,689.64 852.20,691.95 852.25,693.70 852.30,695.02" fill="none" stroke="#fff" stroke-width="1.8" stroke-linejoin="round"/>
<polyline points="849.70,695.35 849.75,694.05 849.80,692.30 849.85,690.00 849.90,687.00 849.95,683.12 850.00,678.19 850.05,671.97 850.10,664.15 850.15,654.86 850.20,643.75 850.25,630.70 850.30,615.64 850.35,598.57 850.40,579.59 850.45,558.93 850.50,536.91 850.55,513.97 850.60,490.67 850.65,467.66 850.70,445.65 850.75,425.38 850.80,407.58 850.85,392.93 850.90,382.02 850.95,375.28 851.00,373.00 851.05,375.27 851.10,382.00 851.15,392.91 851.20,407.55 851.25,425.33 851.30,445.60 851.35,467.60 851.40,490.60 851.45,513.89 851.50,536.82 851.55,558.83 851.60,579.49 851.65,598.45 851.70,615.51 851.75,630.57 851.80,643.61 851.85,654.71 851.90,663.99 851.95,671.60 852.00,677.80 852.05,682.74 852.10,686.63 852.15,689.64 852.20,691.95 852.25,693.70 852.30,695.02" fill="none" stroke="#7e3e44" stroke-width="1.4" stroke-linejoin="round"/>
<polyline points="855.80,694.29 855.85,692.87 855.90,690.97 855.95,688.48 856.00,685.24 856.05,681.10 856.10,675.83 856.15,669.61 856.20,661.44 856.25,651.52 856.30,639.65 856.35,625.70 856.40,609.61 856.45,591.36 856.50,571.09 856.55,549.00 856.60,525.46 856.65,500.95 856.70,476.04 856.75,451.45 856.80,427.92 856.85,406.26 856.90,387.24 856.95,371.59 857.00,359.93 857.05,352.73 857.10,350.30 857.15,352.74 857.20,359.94 857.25,371.61 857.30,387.27 857.35,406.30 857.40,427.97 857.45,451.51 857.50,476.11 857.55,501.02 857.60,525.55 857.65,549.10 857.70,571.19 857.75,591.47 857.80,609.72 857.85,625.83 857.90,639.79 857.95,651.66 858.00,661.60 858.05,669.78 858.10,676.09 858.15,681.37 858.20,685.53 858.25,688.76 858.30,691.23 858.35,693.11 858.40,694.52" fill="none" stroke="#fff" stroke-width="1.8" stroke-linejoin="round"/>
<polyline points="855.80,694.29 855.85,692.87 855.90,690.97 855.95,688.48 856.00,685.24 856.05,681.10 856.10,675.83 856.15,669.61 856.20,661.44 856.25,651.52 856.30,639.65 856.35,625.70 856.40,609.61 856.45,591.36 856.50,571.09 856.55,549.00 856.60,525.46 856.65,500.95 856.70,476.04 856.75,451.45 856.80,427.92 856.85,406.26 856.90,387.24 856.95,371.59 857.00,359.93 857.05,352.73 857.10,350.30 857.15,352.74 857.20,359.94 857.25,371.61 857.30,387.27 857.35,406.30 857.40,427.97 857.45,451.51 857.50,476.11 857.55,501.02 857.60,525.55 857.65,549.10 857.70,571.19 857.75,591.47 857.80,609.72 857.85,625.83 857.90,639.79 857.95,651.66 858.00,661.60 858.05,669.78 858.10,676.09 858.15,681.37 858.20,685.53 858.25,688.76 858.30,691.23 858.35,693.11 858.40,694.52" fill="none" stroke="#7e3e44" stroke-width="1.4" stroke-linejoin="round"/>
<polyline points="1013.95,694.23 1014.00,691.60 1014.05,688.11 1014.10,683.53 1014.15,677.62 1014.20,670.36 1014.25,661.12 1014.30,649.93 1014.35,636.67 1014.40,621.31 1014.45,603.93 1014.50,584.74 1014.55,564.11 1014.60,542.55 1014.65,520.71 1014.70,499.36 1014.75,479.31 1014.80,461.43 1014.85,446.53 1014.90,435.32 1014.95,428.36 1015.00,426.00 1015.05,428.36 1015.10,435.32 1015.15,446.53 1015.20,461.43 1015.25,479.31 1015.30,499.36 1015.35,520.71 1015.40,542.55 1015.45,564.11 1015.50,584.74 1015.55,603.93 1015.60,621.31 1015.65,636.67 1015.70,649.93 1015.75,661.12 1015.80,670.36 1015.85,677.91 1015.90,683.83 1015.95,688.43 1016.00,691.94 1016.05,694.54" fill="none" stroke="#fff" stroke-width="1.8" stroke-linejoin="round"/>
<polyline points="1013.95,694.23 1014.00,691.60 1014.05,688.11 1014.10,683.53 1014.15,677.62 1014.20,670.36 1014.25,661.12 1014.30,649.93 1014.35,636.67 1014.40,621.31 1014.45,603.93 1014.50,584.74 1014.55,564.11 1014.60,542.55 1014.65,520.71 1014.70,499.36 1014.75,479.31 1014.80,461.43 1014.85,446.53 1014.90,435.32 1014.95,428.36 1015.00,426.00 1015.05,428.36 1015.10,435.32 1015.15,446.53 1015.20,461.43 1015.25,479.31 1015.30,499.36 1015.35,520.71 1015.40,542.55 1015.45,564.11 1015.50,584.74 1015.55,603.93 1015.60,621.31 1015.65,636.67 1015.70,649.93 1015.75,661.12 1015.80,670.36 1015.85,677.91 1015.90,683.83 1015.95,688.43 1016.00,691.94 1016.05,694.54" fill="none" stroke="#806a6e" stroke-width="1.4" stroke-linejoin="round"/>
<line x1="133.1" y1="669.0" x2="133.1" y2="676.4" stroke="#60608e" stroke-width="1.15"/>
<line x1="796.5" y1="679.0" x2="796.5" y2="686.8" stroke="#60608e" stroke-width="1.15"/>
<line x1="857.1" y1="340.0" x2="857.1" y2="348.5" stroke="#60608e" stroke-width="1.15"/>
<line x1="851.0" y1="365.0" x2="851.0" y2="371.4" stroke="#60608e" stroke-width="1.15"/>
<line x1="1015.0" y1="416.7" x2="1015.0" y2="424.0" stroke="#60608e" stroke-width="1.15"/>
<line x1="520.8" y1="615.0" x2="520.8" y2="626.0" stroke="#4444a0" stroke-width="1.3"/>
<line x1="536.8" y1="646.0" x2="536.8" y2="658.0" stroke="#4444a0" stroke-width="1.3"/>
<line x1="851.0" y1="589.0" x2="851.0" y2="597.0" stroke="#4444a0" stroke-width="1.3"/>
<line x1="851.0" y1="446.0" x2="851.0" y2="452.0" stroke="#4444a0" stroke-width="1.3"/>
<text transform="translate(138.05,760.20) rotate(-90)" font-size="15.5" fill="#2a2a80" stroke="#2a2a80" stroke-width="0.25">0.93</text>
<line x1="133.8" y1="733.0" x2="133.8" y2="722.3" stroke="#2a2a80" stroke-width="1.2"/>
<path d="M128.3,719.1 V725.5 M139.2,719.1 V725.5 M128.3,722.3 H139.2" fill="none" stroke="#5aa05a" stroke-width="1.1"/>
<text transform="translate(524.00,760.20) rotate(-90)" font-size="15.5" fill="#2a2a80" stroke="#2a2a80" stroke-width="0.25">2.99</text>
<line x1="519.6" y1="733.0" x2="519.6" y2="722.3" stroke="#2a2a80" stroke-width="1.2"/>
<path d="M517.0,719.1 V725.5 M523.3,719.1 V725.5 M517.0,722.3 H523.3" fill="none" stroke="#5aa05a" stroke-width="1.1"/>
<text transform="translate(542.10,760.20) rotate(-90)" font-size="15.5" fill="#2a2a80" stroke="#2a2a80" stroke-width="0.25">0.99</text>
<line x1="537.5" y1="733.0" x2="537.5" y2="722.3" stroke="#2a2a80" stroke-width="1.2"/>
<path d="M534.2,719.1 V725.5 M540.0,719.1 V725.5 M534.2,722.3 H540.0" fill="none" stroke="#5aa05a" stroke-width="1.1"/>
<text transform="translate(861.85,760.20) rotate(-90)" font-size="15.5" fill="#2a2a80" stroke="#2a2a80" stroke-width="0.25">3.00</text>
<line x1="857.1" y1="733.0" x2="857.1" y2="722.3" stroke="#2a2a80" stroke-width="1.2"/>
<path d="M854.0,719.1 V725.5 M860.8,719.1 V725.5 M854.0,722.3 H860.8" fill="none" stroke="#5aa05a" stroke-width="1.1"/>
<line x1="31" y1="769.5" x2="1083" y2="769.5" stroke="#484848" stroke-width="1.4"/><text x="1085.72" y="789.8" font-size="13" fill="#3c3c3c" text-anchor="end">−1</text><text x="1014.45" y="789.8" font-size="13" fill="#3c3c3c" text-anchor="middle">0</text><text x="949.18" y="789.8" font-size="13" fill="#3c3c3c" text-anchor="middle">1</text><text x="883.91" y="789.8" font-size="13" fill="#3c3c3c" text-anchor="middle">2</text><text x="818.64" y="789.8" font-size="13" fill="#3c3c3c" text-anchor="middle">3</text><text x="753.37" y="789.8" font-size="13" fill="#3c3c3c" text-anchor="middle">4</text><text x="688.10" y="789.8" font-size="13" fill="#3c3c3c" text-anchor="middle">5</text><text x="622.83" y="789.8" font-size="13" fill="#3c3c3c" text-anchor="middle">6</text><text x="557.56" y="789.8" font-size="13" fill="#3c3c3c" text-anchor="middle">7</text><text x="492.29" y="789.8" font-size="13" fill="#3c3c3c" text-anchor="middle">8</text><text x="427.02" y="789.8" font-size="13" fill="#3c3c3c" text-anchor="middle">9</text><text x="361.75" y="789.8" font-size="13" fill="#3c3c3c" text-anchor="middle">10</text><text x="296.48" y="789.8" font-size="13" fill="#3c3c3c" text-anchor="middle">11</text><text x="231.21" y="789.8" font-size="13" fill="#3c3c3c" text-anchor="middle">12</text><text x="165.94" y="789.8" font-size="13" fill="#3c3c3c" text-anchor="middle">13</text><text x="100.67" y="789.8" font-size="13" fill="#3c3c3c" text-anchor="middle">14</text><text x="35.40" y="789.8" font-size="13" fill="#3c3c3c" text-anchor="middle">15</text><path d="M1079.72,769.5 V775 M1014.45,769.5 V775 M949.18,769.5 V775 M883.91,769.5 V775 M818.64,769.5 V775 M753.37,769.5 V775 M688.10,769.5 V775 M622.83,769.5 V775 M557.56,769.5 V775 M492.29,769.5 V775 M427.02,769.5 V775 M361.75,769.5 V775 M296.48,769.5 V775 M231.21,769.5 V775 M165.94,769.5 V775 M100.67,769.5 V775 M35.40,769.5 V775 M1047.09,769.5 V772 M981.81,769.5 V772 M916.54,769.5 V772 M851.27,769.5 V772 M786.00,769.5 V772 M720.73,769.5 V772 M655.46,769.5 V772 M590.19,769.5 V772 M524.92,769.5 V772 M459.65,769.5 V772 M394.38,769.5 V772 M329.11,769.5 V772 M263.84,769.5 V772 M198.57,769.5 V772 M133.31,769.5 V772 M68.03,769.5 V772" stroke="#3c3c3c" stroke-width="1.2" fill="none"/><text x="530.2" y="804.4" font-size="13.5" fill="#3c3c3c">f1</text><text x="551.2" y="804.4" font-size="13.5" fill="#3c3c3c" textLength="30" lengthAdjust="spacingAndGlyphs">(ppm)</text><line x1="1087.5" y1="30" x2="1087.5" y2="763.5" stroke="#484848" stroke-width="1.4"/><text x="1094.5" y="761.44" font-size="13" fill="#3c3c3c">−100</text><text x="1094.5" y="705.90" font-size="13" fill="#3c3c3c">0</text><text x="1094.5" y="650.36" font-size="13" fill="#3c3c3c">100</text><text x="1094.5" y="594.82" font-size="13" fill="#3c3c3c">200</text><text x="1094.5" y="539.28" font-size="13" fill="#3c3c3c">300</text><text x="1094.5" y="483.74" font-size="13" fill="#3c3c3c">400</text><text x="1094.5" y="428.20" font-size="13" fill="#3c3c3c">500</text><text x="1094.5" y="372.66" font-size="13" fill="#3c3c3c">600</text><text x="1094.5" y="317.12" font-size="13" fill="#3c3c3c">700</text><text x="1094.5" y="261.58" font-size="13" fill="#3c3c3c">800</text><text x="1094.5" y="206.04" font-size="13" fill="#3c3c3c">900</text><text x="1094.5" y="150.50" font-size="13" fill="#3c3c3c">1000</text><text x="1094.5" y="94.96" font-size="13" fill="#3c3c3c">1100</text><text x="1094.5" y="39.42" font-size="13" fill="#3c3c3c">1200</text><path d="M1087.5,757.04 H1094 M1087.5,701.50 H1094 M1087.5,645.96 H1094 M1087.5,590.42 H1094 M1087.5,534.88 H1094 M1087.5,479.34 H1094 M1087.5,423.80 H1094 M1087.5,368.26 H1094 M1087.5,312.72 H1094 M1087.5,257.18 H1094 M1087.5,201.64 H1094 M1087.5,146.10 H1094 M1087.5,90.56 H1094 M1087.5,35.02 H1094 M1087.5,729.27 H1091 M1087.5,673.73 H1091 M1087.5,618.19 H1091 M1087.5,562.65 H1091 M1087.5,507.11 H1091 M1087.5,451.57 H1091 M1087.5,396.03 H1091 M1087.5,340.49 H1091 M1087.5,284.95 H1091 M1087.5,229.41 H1091 M1087.5,173.87 H1091 M1087.5,118.33 H1091 M1087.5,62.79 H1091" stroke="#3c3c3c" stroke-width="1.2" fill="none"/>
</svg></body></html>
